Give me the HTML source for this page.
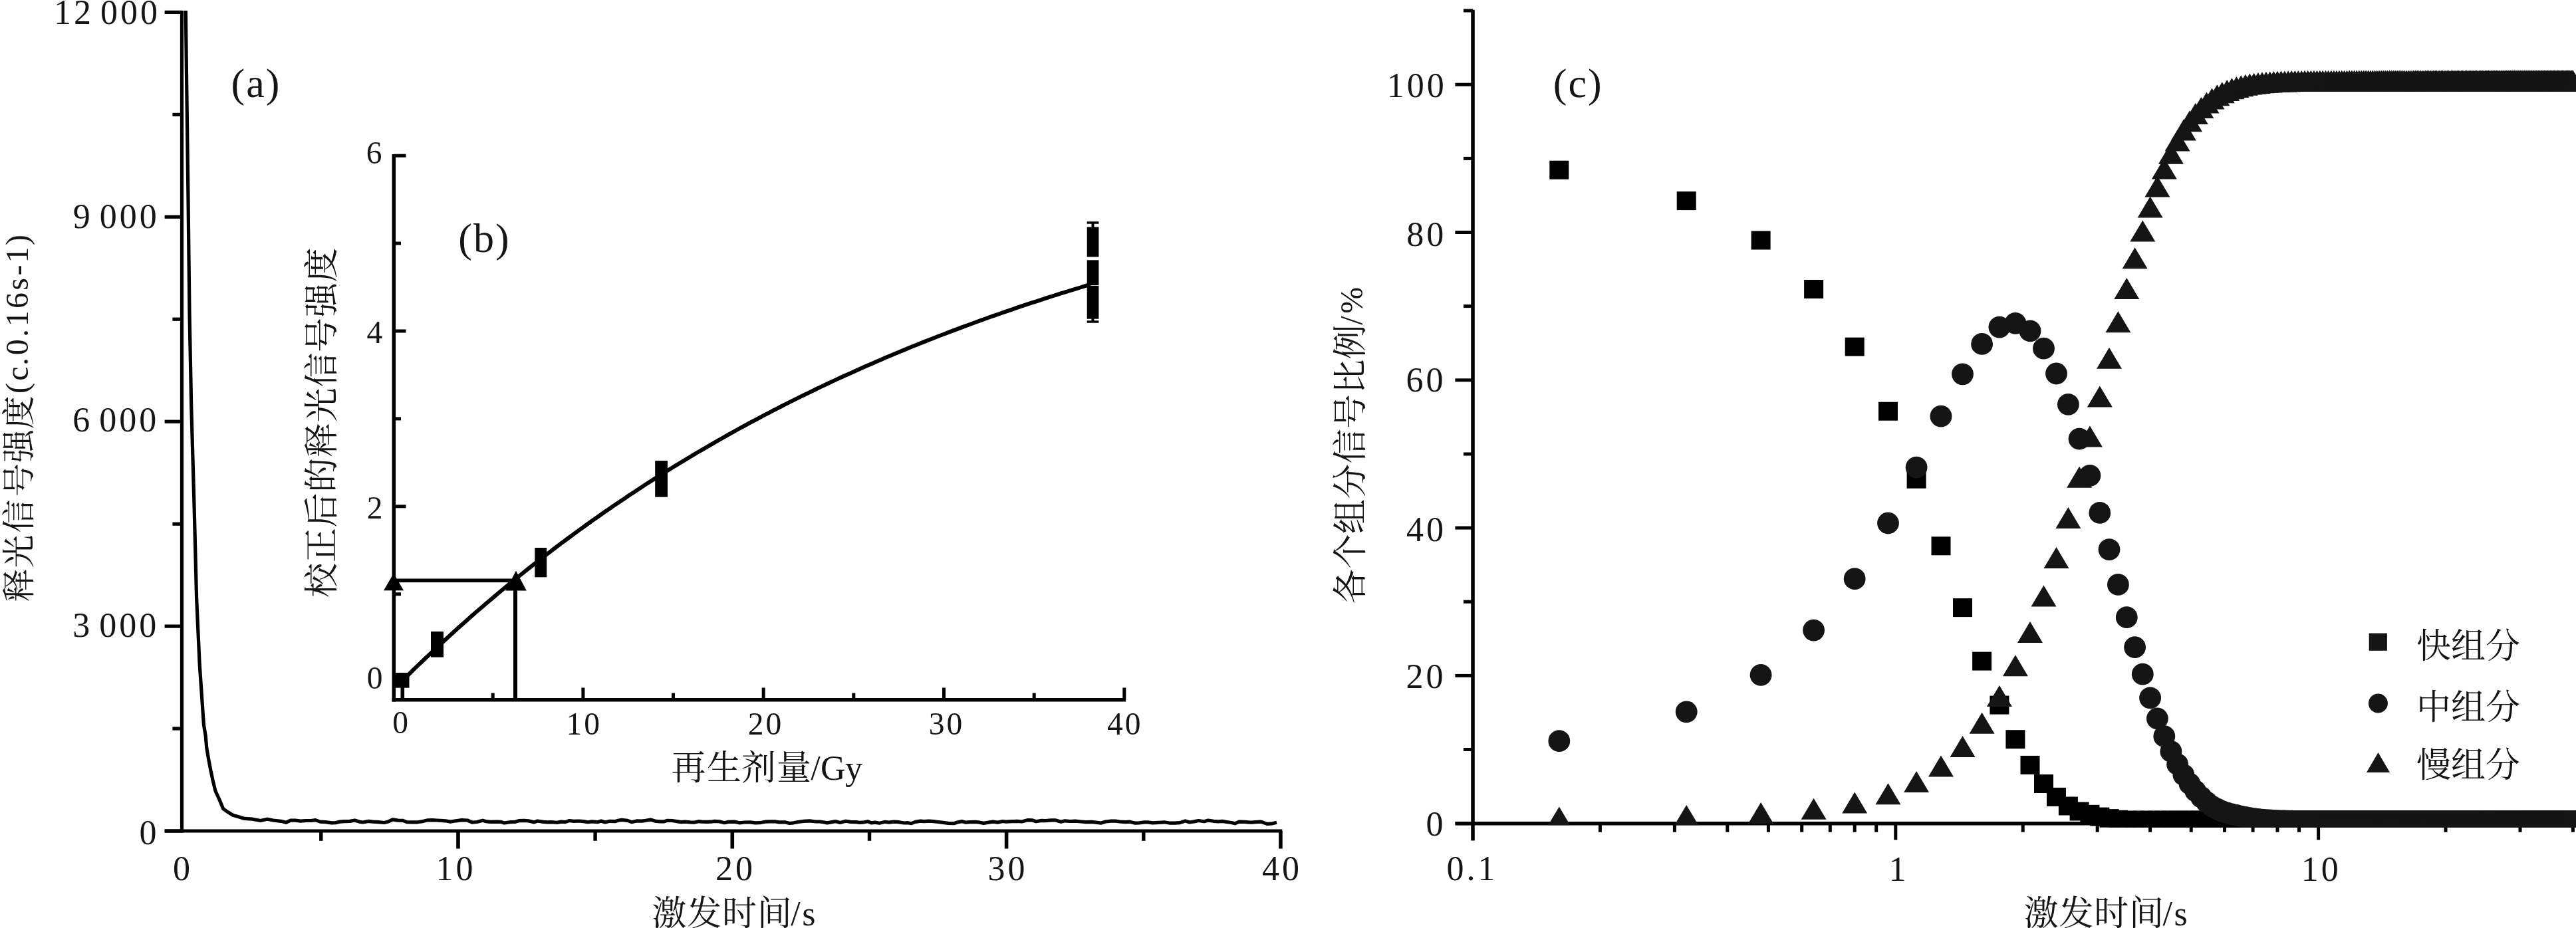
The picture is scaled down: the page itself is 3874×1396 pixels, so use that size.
<!DOCTYPE html>
<html><head><meta charset="utf-8"><title>figure</title>
<style>html,body{margin:0;padding:0;background:#fff;overflow:hidden}svg{display:block;filter:grayscale(100%)}</style>
</head><body>
<svg width="3874" height="1396" viewBox="0 0 3874 1396"><rect width="100%" height="100%" fill="#fff"/><line x1="273.5" y1="16.0" x2="273.5" y2="1252.6" stroke="#000" stroke-width="5.2" stroke-linecap="butt"/>
<line x1="247.7" y1="1250.0" x2="1928.3" y2="1250.0" stroke="#000" stroke-width="5.2" stroke-linecap="butt"/>
<line x1="247.6" y1="1250.0" x2="273.5" y2="1250.0" stroke="#000" stroke-width="5.2" stroke-linecap="butt"/>
<line x1="247.6" y1="942.1" x2="273.5" y2="942.1" stroke="#000" stroke-width="5.2" stroke-linecap="butt"/>
<line x1="247.6" y1="634.2" x2="273.5" y2="634.2" stroke="#000" stroke-width="5.2" stroke-linecap="butt"/>
<line x1="247.6" y1="326.3" x2="273.5" y2="326.3" stroke="#000" stroke-width="5.2" stroke-linecap="butt"/>
<line x1="247.6" y1="18.4" x2="273.5" y2="18.4" stroke="#000" stroke-width="5.2" stroke-linecap="butt"/>
<line x1="259.4" y1="1096.0" x2="273.5" y2="1096.0" stroke="#000" stroke-width="5.2" stroke-linecap="butt"/>
<line x1="259.4" y1="788.2" x2="273.5" y2="788.2" stroke="#000" stroke-width="5.2" stroke-linecap="butt"/>
<line x1="259.4" y1="480.2" x2="273.5" y2="480.2" stroke="#000" stroke-width="5.2" stroke-linecap="butt"/>
<line x1="259.4" y1="172.4" x2="273.5" y2="172.4" stroke="#000" stroke-width="5.2" stroke-linecap="butt"/>
<line x1="689.0" y1="1250.0" x2="689.0" y2="1276.6" stroke="#000" stroke-width="5.6" stroke-linecap="butt"/>
<line x1="1101.3" y1="1250.0" x2="1101.3" y2="1276.6" stroke="#000" stroke-width="5.6" stroke-linecap="butt"/>
<line x1="1513.6" y1="1250.0" x2="1513.6" y2="1276.6" stroke="#000" stroke-width="5.6" stroke-linecap="butt"/>
<line x1="1925.9" y1="1250.0" x2="1925.9" y2="1276.6" stroke="#000" stroke-width="5.6" stroke-linecap="butt"/>
<line x1="482.8" y1="1250.0" x2="482.8" y2="1264.8" stroke="#000" stroke-width="5.4" stroke-linecap="butt"/>
<line x1="895.1" y1="1250.0" x2="895.1" y2="1264.8" stroke="#000" stroke-width="5.4" stroke-linecap="butt"/>
<line x1="1307.5" y1="1250.0" x2="1307.5" y2="1264.8" stroke="#000" stroke-width="5.4" stroke-linecap="butt"/>
<line x1="1719.8" y1="1250.0" x2="1719.8" y2="1264.8" stroke="#000" stroke-width="5.4" stroke-linecap="butt"/>
<text x="160.9" y="36.0" font-size="52" text-anchor="middle" letter-spacing="4" font-family="'Liberation Serif','Times New Roman',serif" fill="#151515">12<tspan dx="10">000</tspan></text>
<text x="174.7" y="343.4" font-size="52" text-anchor="middle" letter-spacing="4" font-family="'Liberation Serif','Times New Roman',serif" fill="#151515">9<tspan dx="10">000</tspan></text>
<text x="174.2" y="649.3" font-size="52" text-anchor="middle" letter-spacing="4" font-family="'Liberation Serif','Times New Roman',serif" fill="#151515">6<tspan dx="10">000</tspan></text>
<text x="174.2" y="958.3" font-size="52" text-anchor="middle" letter-spacing="4" font-family="'Liberation Serif','Times New Roman',serif" fill="#151515">3<tspan dx="10">000</tspan></text>
<text x="224.5" y="1269.9" font-size="52" text-anchor="middle" letter-spacing="4" font-family="'Liberation Serif','Times New Roman',serif" fill="#151515">0</text>
<text x="275.1" y="1324.0" font-size="52" text-anchor="middle" letter-spacing="4" font-family="'Liberation Serif','Times New Roman',serif" fill="#151515">0</text>
<text x="685.5" y="1324.0" font-size="52" text-anchor="middle" letter-spacing="4" font-family="'Liberation Serif','Times New Roman',serif" fill="#151515">10</text>
<text x="1106.0" y="1324.1" font-size="52" text-anchor="middle" letter-spacing="4" font-family="'Liberation Serif','Times New Roman',serif" fill="#151515">20</text>
<text x="1515.5" y="1324.3" font-size="52" text-anchor="middle" letter-spacing="4" font-family="'Liberation Serif','Times New Roman',serif" fill="#151515">30</text>
<text x="1928.0" y="1324.1" font-size="52" text-anchor="middle" letter-spacing="4" font-family="'Liberation Serif','Times New Roman',serif" fill="#151515">40</text>
<text x="384.9" y="145.6" font-size="62" text-anchor="middle" letter-spacing="2" font-family="'Liberation Serif','Times New Roman',serif" fill="#151515">(a)</text>
<path d="M279.3,16.0 L281.0,150.0 L283.0,300.0 L285.0,472.0 L287.7,610.0 L292.0,760.0 L295.6,900.0 L300.2,1000.0 L306.4,1090.0 L309.2,1107.0 L310.7,1124.5 L313.6,1141.7 L316.9,1159.0 L320.6,1176.2 L324.0,1190.0 L329.6,1202.0 L335.7,1216.7 L341.7,1221.0 L350.3,1226.2 L359.0,1228.8 L367.6,1231.4 L379.7,1232.2 L391.7,1234.5 L402.0,1232.2 L410.7,1234.0 L424.5,1235.7 L430.0,1237.3 L436.9,1234.1 L443.9,1234.2 L452.3,1235.2 L459.8,1234.5 L468.1,1234.5 L474.4,1233.6 L481.3,1236.1 L489.7,1236.6 L498.5,1237.8 L504.9,1237.6 L511.3,1236.1 L517.6,1235.7 L526.2,1235.4 L533.5,1234.0 L540.2,1236.1 L545.5,1237.0 L554.2,1235.4 L560.6,1236.2 L568.9,1236.7 L577.7,1237.5 L584.0,1235.9 L590.5,1232.9 L598.5,1234.1 L606.0,1234.4 L611.7,1236.6 L620.0,1236.8 L627.8,1236.8 L635.9,1235.6 L643.2,1233.8 L650.5,1233.7 L656.7,1234.0 L662.0,1234.3 L669.9,1234.8 L677.4,1236.1 L685.7,1234.8 L694.3,1233.7 L703.0,1234.0 L710.0,1237.1 L717.2,1236.5 L725.9,1234.2 L732.2,1235.9 L738.1,1236.4 L746.9,1236.2 L752.8,1236.3 L758.3,1238.0 L767.0,1236.7 L775.0,1236.3 L780.2,1234.7 L788.6,1234.3 L794.6,1234.8 L803.2,1236.9 L808.4,1235.0 L817.2,1236.4 L823.2,1236.8 L829.0,1236.7 L837.8,1237.4 L844.0,1236.1 L850.0,1236.6 L856.2,1234.5 L862.9,1235.4 L870.2,1235.0 L877.6,1235.6 L884.0,1236.8 L889.9,1235.9 L898.5,1236.7 L904.1,1235.0 L910.0,1237.0 L916.9,1235.3 L924.6,1235.7 L929.8,1234.2 L934.9,1233.4 L943.7,1234.3 L949.9,1236.7 L957.2,1234.9 L964.8,1235.1 L971.2,1234.3 L978.4,1233.1 L986.4,1235.4 L992.6,1235.8 L998.3,1235.9 L1003.7,1234.3 L1010.9,1234.5 L1018.1,1235.6 L1024.6,1236.6 L1030.3,1236.2 L1038.0,1236.9 L1043.8,1237.2 L1050.3,1235.7 L1055.7,1236.2 L1063.4,1236.3 L1069.3,1236.2 L1074.8,1235.4 L1082.5,1235.9 L1089.4,1237.7 L1095.5,1236.4 L1104.3,1236.1 L1111.8,1237.8 L1119.7,1237.0 L1128.2,1236.8 L1135.8,1237.8 L1142.4,1237.7 L1150.7,1236.2 L1157.4,1235.8 L1165.0,1235.8 L1171.6,1236.9 L1180.5,1236.8 L1187.4,1238.5 L1193.3,1237.8 L1200.2,1236.5 L1208.9,1235.4 L1217.7,1234.9 L1226.6,1236.0 L1232.7,1236.0 L1238.2,1236.8 L1244.1,1237.9 L1251.0,1236.6 L1256.5,1235.6 L1263.3,1237.5 L1271.9,1235.2 L1279.1,1236.4 L1287.6,1236.7 L1292.7,1237.4 L1299.5,1236.8 L1305.1,1235.7 L1310.3,1237.8 L1315.7,1237.1 L1322.5,1238.2 L1331.3,1236.3 L1337.1,1237.1 L1344.5,1236.1 L1351.3,1236.6 L1359.7,1238.0 L1365.5,1237.7 L1370.6,1238.7 L1376.5,1236.4 L1384.5,1235.1 L1389.6,1235.7 L1396.5,1235.2 L1404.1,1235.6 L1410.7,1236.5 L1418.4,1237.4 L1426.1,1238.3 L1434.6,1238.7 L1439.7,1237.0 L1446.5,1235.6 L1452.3,1237.2 L1458.7,1236.7 L1466.8,1236.3 L1473.5,1237.2 L1479.2,1238.4 L1485.0,1237.4 L1493.3,1236.1 L1500.4,1237.1 L1507.8,1235.5 L1513.2,1236.2 L1521.5,1235.7 L1529.9,1235.4 L1536.8,1236.0 L1545.0,1233.7 L1552.0,1233.8 L1558.2,1235.8 L1566.3,1234.4 L1572.3,1234.6 L1581.3,1233.8 L1587.0,1233.8 L1595.6,1236.3 L1601.4,1234.8 L1609.6,1235.5 L1617.3,1235.2 L1625.5,1236.0 L1632.6,1236.7 L1641.5,1236.4 L1648.1,1237.1 L1656.1,1238.1 L1662.9,1236.0 L1670.8,1235.1 L1677.7,1235.2 L1683.9,1236.0 L1692.4,1236.6 L1699.1,1236.2 L1707.2,1238.2 L1712.9,1237.8 L1721.2,1236.9 L1726.3,1236.8 L1733.5,1237.8 L1742.3,1237.3 L1751.1,1236.8 L1759.8,1238.2 L1766.7,1238.2 L1774.4,1237.6 L1782.6,1234.9 L1788.9,1237.0 L1795.8,1235.9 L1802.5,1234.5 L1811.0,1235.8 L1817.1,1234.1 L1824.9,1235.3 L1832.3,1235.9 L1838.0,1235.4 L1846.6,1236.7 L1852.0,1237.5 L1857.2,1238.8 L1863.4,1236.2 L1871.6,1236.4 L1877.0,1236.8 L1882.2,1237.2 L1888.5,1236.7 L1895.2,1236.1 L1900.5,1237.6 L1906.0,1239.5 L1913.5,1238.8 L1920.0,1237.2" fill="none" stroke="#000" stroke-width="5.2" stroke-linejoin="round"/>
<line x1="592.3" y1="232.0" x2="592.3" y2="1055.6" stroke="#000" stroke-width="5.5" stroke-linecap="butt"/>
<line x1="589.6" y1="1052.8" x2="1693.0" y2="1052.8" stroke="#000" stroke-width="5.5" stroke-linecap="butt"/>
<line x1="592.3" y1="1025.6" x2="610.5" y2="1025.6" stroke="#000" stroke-width="5" stroke-linecap="butt"/>
<line x1="592.3" y1="761.8" x2="610.5" y2="761.8" stroke="#000" stroke-width="5" stroke-linecap="butt"/>
<line x1="592.3" y1="498.0" x2="610.5" y2="498.0" stroke="#000" stroke-width="5" stroke-linecap="butt"/>
<line x1="592.3" y1="234.2" x2="610.5" y2="234.2" stroke="#000" stroke-width="5" stroke-linecap="butt"/>
<line x1="592.3" y1="893.7" x2="603.0" y2="893.7" stroke="#000" stroke-width="5" stroke-linecap="butt"/>
<line x1="592.3" y1="629.9" x2="603.0" y2="629.9" stroke="#000" stroke-width="5" stroke-linecap="butt"/>
<line x1="592.3" y1="366.1" x2="603.0" y2="366.1" stroke="#000" stroke-width="5" stroke-linecap="butt"/>
<line x1="605.6" y1="1052.8" x2="605.6" y2="1034.5" stroke="#000" stroke-width="5" stroke-linecap="butt"/>
<line x1="876.9" y1="1052.8" x2="876.9" y2="1034.5" stroke="#000" stroke-width="5" stroke-linecap="butt"/>
<line x1="1148.2" y1="1052.8" x2="1148.2" y2="1034.5" stroke="#000" stroke-width="5" stroke-linecap="butt"/>
<line x1="1419.5" y1="1052.8" x2="1419.5" y2="1034.5" stroke="#000" stroke-width="5" stroke-linecap="butt"/>
<line x1="1690.8" y1="1052.8" x2="1690.8" y2="1034.5" stroke="#000" stroke-width="5" stroke-linecap="butt"/>
<line x1="741.2" y1="1052.8" x2="741.2" y2="1042.5" stroke="#000" stroke-width="5" stroke-linecap="butt"/>
<line x1="1012.5" y1="1052.8" x2="1012.5" y2="1042.5" stroke="#000" stroke-width="5" stroke-linecap="butt"/>
<line x1="1283.8" y1="1052.8" x2="1283.8" y2="1042.5" stroke="#000" stroke-width="5" stroke-linecap="butt"/>
<line x1="1555.2" y1="1052.8" x2="1555.2" y2="1042.5" stroke="#000" stroke-width="5" stroke-linecap="butt"/>
<text x="564.2" y="246.0" font-size="47.5" text-anchor="middle" letter-spacing="3" font-family="'Liberation Serif','Times New Roman',serif" fill="#151515">6</text>
<text x="564.8" y="515.6" font-size="47.5" text-anchor="middle" letter-spacing="3" font-family="'Liberation Serif','Times New Roman',serif" fill="#151515">4</text>
<text x="565.0" y="780.1" font-size="47.5" text-anchor="middle" letter-spacing="3" font-family="'Liberation Serif','Times New Roman',serif" fill="#151515">2</text>
<text x="565.1" y="1036.0" font-size="47.5" text-anchor="middle" letter-spacing="3" font-family="'Liberation Serif','Times New Roman',serif" fill="#151515">0</text>
<text x="603.6" y="1103.4" font-size="47.5" text-anchor="middle" letter-spacing="3" font-family="'Liberation Serif','Times New Roman',serif" fill="#151515">0</text>
<text x="878.2" y="1104.7" font-size="47.5" text-anchor="middle" letter-spacing="3" font-family="'Liberation Serif','Times New Roman',serif" fill="#151515">10</text>
<text x="1151.5" y="1104.9" font-size="47.5" text-anchor="middle" letter-spacing="3" font-family="'Liberation Serif','Times New Roman',serif" fill="#151515">20</text>
<text x="1423.4" y="1105.2" font-size="47.5" text-anchor="middle" letter-spacing="3" font-family="'Liberation Serif','Times New Roman',serif" fill="#151515">30</text>
<text x="1691.8" y="1105.2" font-size="47.5" text-anchor="middle" letter-spacing="3" font-family="'Liberation Serif','Times New Roman',serif" fill="#151515">40</text>
<text x="728.4" y="378.6" font-size="62" text-anchor="middle" letter-spacing="2" font-family="'Liberation Serif','Times New Roman',serif" fill="#151515">(b)</text>
<path d="M604.6,1024.4 L610.6,1018.5 L616.6,1012.6 L622.6,1006.7 L628.6,1000.9 L634.6,995.2 L640.6,989.5 L646.6,983.8 L652.6,978.1 L658.6,972.5 L664.6,967.0 L670.6,961.5 L676.6,956.0 L682.6,950.5 L688.6,945.1 L694.6,939.7 L700.6,934.4 L706.6,929.1 L712.6,923.8 L718.6,918.6 L724.6,913.4 L730.6,908.3 L736.6,903.2 L742.6,898.1 L748.6,893.0 L754.6,888.0 L760.6,883.1 L766.6,878.1 L772.6,873.2 L778.6,868.3 L784.6,863.5 L790.6,858.7 L796.6,853.9 L802.6,849.2 L808.6,844.5 L814.6,839.8 L820.6,835.2 L826.6,830.6 L832.6,826.0 L838.6,821.4 L844.6,816.9 L850.6,812.5 L856.6,808.0 L862.6,803.6 L868.6,799.2 L874.6,794.8 L880.6,790.5 L886.6,786.2 L892.6,781.9 L898.6,777.7 L904.6,773.5 L910.6,769.3 L916.6,765.2 L922.6,761.0 L928.6,757.0 L934.6,752.9 L940.6,748.9 L946.6,744.8 L952.6,740.9 L958.6,736.9 L964.6,733.0 L970.6,729.1 L976.6,725.2 L982.6,721.4 L988.6,717.6 L994.6,713.8 L1000.6,710.0 L1006.6,706.3 L1012.6,702.5 L1018.6,698.9 L1024.6,695.2 L1030.6,691.6 L1036.6,688.0 L1042.6,684.4 L1048.6,680.8 L1054.6,677.3 L1060.6,673.8 L1066.6,670.3 L1072.6,666.8 L1078.6,663.4 L1084.6,660.0 L1090.6,656.6 L1096.6,653.2 L1102.6,649.9 L1108.6,646.5 L1114.6,643.2 L1120.6,640.0 L1126.6,636.7 L1132.6,633.5 L1138.6,630.3 L1144.6,627.1 L1150.6,623.9 L1156.6,620.8 L1162.6,617.7 L1168.6,614.6 L1174.6,611.5 L1180.6,608.4 L1186.6,605.4 L1192.6,602.4 L1198.6,599.4 L1204.6,596.4 L1210.6,593.5 L1216.6,590.6 L1222.6,587.7 L1228.6,584.8 L1234.6,581.9 L1240.6,579.0 L1246.6,576.2 L1252.6,573.4 L1258.6,570.6 L1264.6,567.8 L1270.6,565.1 L1276.6,562.4 L1282.6,559.7 L1288.6,557.0 L1294.6,554.3 L1300.6,551.6 L1306.6,549.0 L1312.6,546.4 L1318.6,543.8 L1324.6,541.2 L1330.6,538.6 L1336.6,536.1 L1342.6,533.5 L1348.6,531.0 L1354.6,528.5 L1360.6,526.1 L1366.6,523.6 L1372.6,521.1 L1378.6,518.7 L1384.6,516.3 L1390.6,513.9 L1396.6,511.5 L1402.6,509.2 L1408.6,506.8 L1414.6,504.5 L1420.6,502.2 L1426.6,499.9 L1432.6,497.6 L1438.6,495.4 L1444.6,493.1 L1450.6,490.9 L1456.6,488.7 L1462.6,486.5 L1468.6,484.3 L1474.6,482.1 L1480.6,480.0 L1486.6,477.8 L1492.6,475.7 L1498.6,473.6 L1504.6,471.5 L1510.6,469.4 L1516.6,467.3 L1522.6,465.3 L1528.6,463.2 L1534.6,461.2 L1540.6,459.2 L1546.6,457.2 L1552.6,455.2 L1558.6,453.3 L1564.6,451.3 L1570.6,449.4 L1576.6,447.4 L1582.6,445.5 L1588.6,443.6 L1594.6,441.7 L1600.6,439.9 L1606.6,438.0 L1612.6,436.1 L1618.6,434.3 L1624.6,432.5 L1630.6,430.7 L1640.0,427.9" fill="none" stroke="#000" stroke-width="6" stroke-linejoin="round"/>
<line x1="592.0" y1="873.3" x2="777.0" y2="873.3" stroke="#000" stroke-width="5.4" stroke-linecap="butt"/>
<line x1="775.0" y1="873.3" x2="775.0" y2="1052.8" stroke="#000" stroke-width="6" stroke-linecap="butt"/>
<rect x="593.7" y="1012.0" width="21.8" height="22.7" fill="#000"/>
<line x1="605.0" y1="1034.0" x2="605.0" y2="1050.0" stroke="#000" stroke-width="5" stroke-linecap="butt"/>
<rect x="648.0" y="950.0" width="19.0" height="38.7" fill="#000"/>
<rect x="804.3" y="824.0" width="17.9" height="44.3" fill="#000"/>
<rect x="985.2" y="693.1" width="18.8" height="54.6" fill="#000"/>
<rect x="1634.7" y="341.5" width="17.7" height="45.0" fill="#000"/>
<rect x="1634.7" y="391.3" width="17.7" height="37.9" fill="#000"/>
<rect x="1634.7" y="430.0" width="17.7" height="49.7" fill="#000"/>
<line x1="1643.5" y1="334.0" x2="1643.5" y2="342.0" stroke="#000" stroke-width="4" stroke-linecap="butt"/>
<line x1="1643.5" y1="479.0" x2="1643.5" y2="485.0" stroke="#000" stroke-width="4" stroke-linecap="butt"/>
<line x1="1634.7" y1="335.0" x2="1652.4" y2="335.0" stroke="#000" stroke-width="3.5" stroke-linecap="butt"/>
<line x1="1634.7" y1="484.0" x2="1652.4" y2="484.0" stroke="#000" stroke-width="3.5" stroke-linecap="butt"/>
<path d="M592.0,862.6 L607.0,888.3 L577.0,888.3 Z" fill="#000"/>
<path d="M776.0,858.7 L791.8,888.5 L760.2,888.5 Z" fill="#000"/>
<text x="1035.6" y="1173.0" font-size="52" text-anchor="middle" font-family="'Liberation Serif','Noto Serif CJK SC','Noto Serif CJK JP',serif" fill="#151515">再</text>
<text x="1088.9" y="1173.0" font-size="52" text-anchor="middle" font-family="'Liberation Serif','Noto Serif CJK SC','Noto Serif CJK JP',serif" fill="#151515">生</text>
<text x="1140.7" y="1173.0" font-size="52" text-anchor="middle" font-family="'Liberation Serif','Noto Serif CJK SC','Noto Serif CJK JP',serif" fill="#151515">剂</text>
<text x="1194.0" y="1173.0" font-size="52" text-anchor="middle" font-family="'Liberation Serif','Noto Serif CJK SC','Noto Serif CJK JP',serif" fill="#151515">量</text>
<text x="1226.5" y="1173.0" font-size="52" text-anchor="middle" font-family="'Liberation Serif','Noto Serif CJK SC','Noto Serif CJK JP',serif" fill="#151515">/</text>
<text x="1252.8" y="1173.0" font-size="52" text-anchor="middle" font-family="'Liberation Serif','Noto Serif CJK SC','Noto Serif CJK JP',serif" fill="#151515">G</text>
<text x="1284.0" y="1173.0" font-size="52" text-anchor="middle" font-family="'Liberation Serif','Noto Serif CJK SC','Noto Serif CJK JP',serif" fill="#151515">y</text>
<text transform="translate(502.0,872.8) rotate(-90)" font-size="52" text-anchor="middle" font-family="'Liberation Serif','Noto Serif CJK SC','Noto Serif CJK JP',serif" fill="#151515">校</text>
<text transform="translate(502.0,820.1) rotate(-90)" font-size="52" text-anchor="middle" font-family="'Liberation Serif','Noto Serif CJK SC','Noto Serif CJK JP',serif" fill="#151515">正</text>
<text transform="translate(502.0,767.4) rotate(-90)" font-size="52" text-anchor="middle" font-family="'Liberation Serif','Noto Serif CJK SC','Noto Serif CJK JP',serif" fill="#151515">后</text>
<text transform="translate(502.0,714.7) rotate(-90)" font-size="52" text-anchor="middle" font-family="'Liberation Serif','Noto Serif CJK SC','Noto Serif CJK JP',serif" fill="#151515">的</text>
<text transform="translate(502.0,662.0) rotate(-90)" font-size="52" text-anchor="middle" font-family="'Liberation Serif','Noto Serif CJK SC','Noto Serif CJK JP',serif" fill="#151515">释</text>
<text transform="translate(502.0,609.3) rotate(-90)" font-size="52" text-anchor="middle" font-family="'Liberation Serif','Noto Serif CJK SC','Noto Serif CJK JP',serif" fill="#151515">光</text>
<text transform="translate(502.0,556.6) rotate(-90)" font-size="52" text-anchor="middle" font-family="'Liberation Serif','Noto Serif CJK SC','Noto Serif CJK JP',serif" fill="#151515">信</text>
<text transform="translate(502.0,503.9) rotate(-90)" font-size="52" text-anchor="middle" font-family="'Liberation Serif','Noto Serif CJK SC','Noto Serif CJK JP',serif" fill="#151515">号</text>
<text transform="translate(502.0,451.2) rotate(-90)" font-size="52" text-anchor="middle" font-family="'Liberation Serif','Noto Serif CJK SC','Noto Serif CJK JP',serif" fill="#151515">强</text>
<text transform="translate(502.0,398.5) rotate(-90)" font-size="52" text-anchor="middle" font-family="'Liberation Serif','Noto Serif CJK SC','Noto Serif CJK JP',serif" fill="#151515">度</text>
<line x1="2215.0" y1="14.7" x2="2215.0" y2="1264.5" stroke="#000" stroke-width="5.5" stroke-linecap="butt"/>
<line x1="2188.8" y1="1238.7" x2="3874.0" y2="1238.7" stroke="#000" stroke-width="5.5" stroke-linecap="butt"/>
<line x1="2188.4" y1="1238.7" x2="2215.0" y2="1238.7" stroke="#000" stroke-width="5" stroke-linecap="butt"/>
<line x1="2188.4" y1="1016.4" x2="2215.0" y2="1016.4" stroke="#000" stroke-width="5" stroke-linecap="butt"/>
<line x1="2188.4" y1="794.1" x2="2215.0" y2="794.1" stroke="#000" stroke-width="5" stroke-linecap="butt"/>
<line x1="2188.4" y1="571.8" x2="2215.0" y2="571.8" stroke="#000" stroke-width="5" stroke-linecap="butt"/>
<line x1="2188.4" y1="349.5" x2="2215.0" y2="349.5" stroke="#000" stroke-width="5" stroke-linecap="butt"/>
<line x1="2188.4" y1="127.2" x2="2215.0" y2="127.2" stroke="#000" stroke-width="5" stroke-linecap="butt"/>
<line x1="2200.9" y1="1127.5" x2="2215.0" y2="1127.5" stroke="#000" stroke-width="5" stroke-linecap="butt"/>
<line x1="2200.9" y1="905.2" x2="2215.0" y2="905.2" stroke="#000" stroke-width="5" stroke-linecap="butt"/>
<line x1="2200.9" y1="683.0" x2="2215.0" y2="683.0" stroke="#000" stroke-width="5" stroke-linecap="butt"/>
<line x1="2200.9" y1="460.6" x2="2215.0" y2="460.6" stroke="#000" stroke-width="5" stroke-linecap="butt"/>
<line x1="2200.9" y1="238.4" x2="2215.0" y2="238.4" stroke="#000" stroke-width="5" stroke-linecap="butt"/>
<line x1="2200.9" y1="16.0" x2="2215.0" y2="16.0" stroke="#000" stroke-width="5" stroke-linecap="butt"/>
<line x1="2850.8" y1="1238.7" x2="2850.8" y2="1263.5" stroke="#000" stroke-width="5" stroke-linecap="butt"/>
<line x1="3486.6" y1="1238.7" x2="3486.6" y2="1263.5" stroke="#000" stroke-width="5" stroke-linecap="butt"/>
<line x1="2406.4" y1="1238.7" x2="2406.4" y2="1251.8" stroke="#000" stroke-width="5" stroke-linecap="butt"/>
<line x1="2518.4" y1="1238.7" x2="2518.4" y2="1251.8" stroke="#000" stroke-width="5" stroke-linecap="butt"/>
<line x1="2597.8" y1="1238.7" x2="2597.8" y2="1251.8" stroke="#000" stroke-width="5" stroke-linecap="butt"/>
<line x1="2659.4" y1="1238.7" x2="2659.4" y2="1251.8" stroke="#000" stroke-width="5" stroke-linecap="butt"/>
<line x1="2709.7" y1="1238.7" x2="2709.7" y2="1251.8" stroke="#000" stroke-width="5" stroke-linecap="butt"/>
<line x1="2752.3" y1="1238.7" x2="2752.3" y2="1251.8" stroke="#000" stroke-width="5" stroke-linecap="butt"/>
<line x1="2789.2" y1="1238.7" x2="2789.2" y2="1251.8" stroke="#000" stroke-width="5" stroke-linecap="butt"/>
<line x1="2821.7" y1="1238.7" x2="2821.7" y2="1251.8" stroke="#000" stroke-width="5" stroke-linecap="butt"/>
<line x1="3042.2" y1="1238.7" x2="3042.2" y2="1251.8" stroke="#000" stroke-width="5" stroke-linecap="butt"/>
<line x1="3154.2" y1="1238.7" x2="3154.2" y2="1251.8" stroke="#000" stroke-width="5" stroke-linecap="butt"/>
<line x1="3233.6" y1="1238.7" x2="3233.6" y2="1251.8" stroke="#000" stroke-width="5" stroke-linecap="butt"/>
<line x1="3295.2" y1="1238.7" x2="3295.2" y2="1251.8" stroke="#000" stroke-width="5" stroke-linecap="butt"/>
<line x1="3345.5" y1="1238.7" x2="3345.5" y2="1251.8" stroke="#000" stroke-width="5" stroke-linecap="butt"/>
<line x1="3388.1" y1="1238.7" x2="3388.1" y2="1251.8" stroke="#000" stroke-width="5" stroke-linecap="butt"/>
<line x1="3425.0" y1="1238.7" x2="3425.0" y2="1251.8" stroke="#000" stroke-width="5" stroke-linecap="butt"/>
<line x1="3457.5" y1="1238.7" x2="3457.5" y2="1251.8" stroke="#000" stroke-width="5" stroke-linecap="butt"/>
<line x1="3678.0" y1="1238.7" x2="3678.0" y2="1251.8" stroke="#000" stroke-width="5" stroke-linecap="butt"/>
<line x1="3790.0" y1="1238.7" x2="3790.0" y2="1251.8" stroke="#000" stroke-width="5" stroke-linecap="butt"/>
<line x1="3869.4" y1="1238.7" x2="3869.4" y2="1251.8" stroke="#000" stroke-width="5" stroke-linecap="butt"/>
<text x="2130.7" y="146.2" font-size="52" text-anchor="middle" letter-spacing="4" font-family="'Liberation Serif','Times New Roman',serif" fill="#151515">100</text>
<text x="2145.3" y="370.1" font-size="52" text-anchor="middle" letter-spacing="4" font-family="'Liberation Serif','Times New Roman',serif" fill="#151515">80</text>
<text x="2144.6" y="589.0" font-size="52" text-anchor="middle" letter-spacing="4" font-family="'Liberation Serif','Times New Roman',serif" fill="#151515">60</text>
<text x="2145.0" y="813.6" font-size="52" text-anchor="middle" letter-spacing="4" font-family="'Liberation Serif','Times New Roman',serif" fill="#151515">40</text>
<text x="2144.5" y="1035.3" font-size="52" text-anchor="middle" letter-spacing="4" font-family="'Liberation Serif','Times New Roman',serif" fill="#151515">20</text>
<text x="2159.5" y="1256.6" font-size="52" text-anchor="middle" letter-spacing="4" font-family="'Liberation Serif','Times New Roman',serif" fill="#151515">0</text>
<text x="2213.9" y="1324.3" font-size="52" text-anchor="middle" letter-spacing="4" font-family="'Liberation Serif','Times New Roman',serif" fill="#151515">0.1</text>
<text x="2855.6" y="1324.5" font-size="52" text-anchor="middle" letter-spacing="4" font-family="'Liberation Serif','Times New Roman',serif" fill="#151515">1</text>
<text x="3490.7" y="1324.7" font-size="52" text-anchor="middle" letter-spacing="4" font-family="'Liberation Serif','Times New Roman',serif" fill="#151515">10</text>
<text x="2373.2" y="145.6" font-size="62" text-anchor="middle" letter-spacing="2" font-family="'Liberation Serif','Times New Roman',serif" fill="#151515">(c)</text>
<defs><clipPath id="cc"><rect x="2200" y="0" width="1700" height="1244.7"/></clipPath></defs>
<g clip-path="url(#cc)">
<g fill="#000"><rect x="2330.3" y="241.7" width="29" height="28"/><rect x="2521.7" y="288.1" width="29" height="28"/><rect x="2633.6" y="347.5" width="29" height="28"/><rect x="2713.1" y="421.0" width="29" height="28"/><rect x="2774.7" y="507.7" width="29" height="28"/><rect x="2825.0" y="604.7" width="29" height="28"/><rect x="2867.6" y="706.7" width="29" height="28"/><rect x="2904.5" y="807.3" width="29" height="28"/><rect x="2937.0" y="900.1" width="29" height="28"/><rect x="2966.1" y="980.6" width="29" height="28"/><rect x="2992.4" y="1046.6" width="29" height="28"/><rect x="3016.4" y="1098.2" width="29" height="28"/><rect x="3038.5" y="1136.9" width="29" height="28"/><rect x="3059.0" y="1165.0" width="29" height="28"/><rect x="3078.0" y="1184.9" width="29" height="28"/><rect x="3095.9" y="1198.5" width="29" height="28"/><rect x="3112.6" y="1206.5" width="29" height="28"/><rect x="3128.4" y="1210.8" width="29" height="28"/><rect x="3143.3" y="1214.6" width="29" height="28"/><rect x="3157.5" y="1217.1" width="29" height="28"/><rect x="3170.9" y="1218.8" width="29" height="28"/><rect x="3183.8" y="1219.7" width="29" height="28"/><rect x="3196.1" y="1219.7" width="29" height="28"/><rect x="3207.8" y="1219.7" width="29" height="28"/><rect x="3219.1" y="1219.7" width="29" height="28"/><rect x="3229.9" y="1219.7" width="29" height="28"/><rect x="3240.3" y="1219.7" width="29" height="28"/><rect x="3250.4" y="1219.7" width="29" height="28"/><rect x="3260.1" y="1219.7" width="29" height="28"/><rect x="3269.4" y="1219.7" width="29" height="28"/><rect x="3278.5" y="1219.7" width="29" height="28"/><rect x="3287.3" y="1219.7" width="29" height="28"/><rect x="3295.8" y="1219.7" width="29" height="28"/><rect x="3304.0" y="1219.7" width="29" height="28"/><rect x="3312.0" y="1219.7" width="29" height="28"/><rect x="3319.8" y="1219.7" width="29" height="28"/><rect x="3327.3" y="1219.7" width="29" height="28"/><rect x="3334.7" y="1219.7" width="29" height="28"/><rect x="3341.9" y="1219.7" width="29" height="28"/><rect x="3348.9" y="1219.7" width="29" height="28"/><rect x="3355.7" y="1219.7" width="29" height="28"/><rect x="3362.3" y="1219.7" width="29" height="28"/><rect x="3368.8" y="1219.7" width="29" height="28"/><rect x="3375.2" y="1219.7" width="29" height="28"/><rect x="3381.4" y="1219.7" width="29" height="28"/><rect x="3387.5" y="1219.7" width="29" height="28"/><rect x="3393.4" y="1219.7" width="29" height="28"/><rect x="3399.2" y="1219.7" width="29" height="28"/><rect x="3404.9" y="1219.7" width="29" height="28"/><rect x="3410.5" y="1219.7" width="29" height="28"/><rect x="3416.0" y="1219.7" width="29" height="28"/><rect x="3421.3" y="1219.7" width="29" height="28"/><rect x="3426.6" y="1219.7" width="29" height="28"/><rect x="3431.7" y="1219.7" width="29" height="28"/><rect x="3436.8" y="1219.7" width="29" height="28"/><rect x="3441.8" y="1219.7" width="29" height="28"/><rect x="3446.7" y="1219.7" width="29" height="28"/><rect x="3451.5" y="1219.7" width="29" height="28"/><rect x="3456.2" y="1219.7" width="29" height="28"/><rect x="3460.8" y="1219.7" width="29" height="28"/><rect x="3465.4" y="1219.7" width="29" height="28"/><rect x="3469.9" y="1219.7" width="29" height="28"/><rect x="3474.3" y="1219.7" width="29" height="28"/><rect x="3478.6" y="1219.7" width="29" height="28"/><rect x="3482.9" y="1219.7" width="29" height="28"/><rect x="3487.1" y="1219.7" width="29" height="28"/><rect x="3491.3" y="1219.7" width="29" height="28"/><rect x="3495.4" y="1219.7" width="29" height="28"/><rect x="3499.4" y="1219.7" width="29" height="28"/><rect x="3503.4" y="1219.7" width="29" height="28"/><rect x="3507.3" y="1219.7" width="29" height="28"/><rect x="3511.2" y="1219.7" width="29" height="28"/><rect x="3515.0" y="1219.7" width="29" height="28"/><rect x="3518.7" y="1219.7" width="29" height="28"/><rect x="3522.4" y="1219.7" width="29" height="28"/><rect x="3526.1" y="1219.7" width="29" height="28"/><rect x="3529.7" y="1219.7" width="29" height="28"/><rect x="3533.3" y="1219.7" width="29" height="28"/><rect x="3536.8" y="1219.7" width="29" height="28"/><rect x="3540.3" y="1219.7" width="29" height="28"/><rect x="3543.7" y="1219.7" width="29" height="28"/><rect x="3547.1" y="1219.7" width="29" height="28"/><rect x="3550.4" y="1219.7" width="29" height="28"/><rect x="3553.7" y="1219.7" width="29" height="28"/><rect x="3557.0" y="1219.7" width="29" height="28"/><rect x="3560.2" y="1219.7" width="29" height="28"/><rect x="3563.4" y="1219.7" width="29" height="28"/><rect x="3566.6" y="1219.7" width="29" height="28"/><rect x="3569.7" y="1219.7" width="29" height="28"/><rect x="3572.8" y="1219.7" width="29" height="28"/><rect x="3575.8" y="1219.7" width="29" height="28"/><rect x="3578.9" y="1219.7" width="29" height="28"/><rect x="3581.8" y="1219.7" width="29" height="28"/><rect x="3584.8" y="1219.7" width="29" height="28"/><rect x="3587.7" y="1219.7" width="29" height="28"/><rect x="3590.6" y="1219.7" width="29" height="28"/><rect x="3593.5" y="1219.7" width="29" height="28"/><rect x="3596.3" y="1219.7" width="29" height="28"/><rect x="3599.1" y="1219.7" width="29" height="28"/><rect x="3601.9" y="1219.7" width="29" height="28"/><rect x="3604.6" y="1219.7" width="29" height="28"/><rect x="3607.3" y="1219.7" width="29" height="28"/><rect x="3610.0" y="1219.7" width="29" height="28"/><rect x="3612.7" y="1219.7" width="29" height="28"/><rect x="3615.4" y="1219.7" width="29" height="28"/><rect x="3618.0" y="1219.7" width="29" height="28"/><rect x="3620.6" y="1219.7" width="29" height="28"/><rect x="3623.1" y="1219.7" width="29" height="28"/><rect x="3625.7" y="1219.7" width="29" height="28"/><rect x="3628.2" y="1219.7" width="29" height="28"/><rect x="3630.7" y="1219.7" width="29" height="28"/><rect x="3633.2" y="1219.7" width="29" height="28"/><rect x="3635.6" y="1219.7" width="29" height="28"/><rect x="3638.1" y="1219.7" width="29" height="28"/><rect x="3640.5" y="1219.7" width="29" height="28"/><rect x="3642.9" y="1219.7" width="29" height="28"/><rect x="3645.2" y="1219.7" width="29" height="28"/><rect x="3647.6" y="1219.7" width="29" height="28"/><rect x="3649.9" y="1219.7" width="29" height="28"/><rect x="3652.2" y="1219.7" width="29" height="28"/><rect x="3654.5" y="1219.7" width="29" height="28"/><rect x="3656.8" y="1219.7" width="29" height="28"/><rect x="3659.0" y="1219.7" width="29" height="28"/><rect x="3661.3" y="1219.7" width="29" height="28"/><rect x="3663.5" y="1219.7" width="29" height="28"/><rect x="3665.7" y="1219.7" width="29" height="28"/><rect x="3667.9" y="1219.7" width="29" height="28"/><rect x="3670.0" y="1219.7" width="29" height="28"/><rect x="3672.2" y="1219.7" width="29" height="28"/><rect x="3674.3" y="1219.7" width="29" height="28"/><rect x="3676.4" y="1219.7" width="29" height="28"/><rect x="3678.5" y="1219.7" width="29" height="28"/><rect x="3680.6" y="1219.7" width="29" height="28"/><rect x="3682.7" y="1219.7" width="29" height="28"/><rect x="3684.7" y="1219.7" width="29" height="28"/><rect x="3686.8" y="1219.7" width="29" height="28"/><rect x="3688.8" y="1219.7" width="29" height="28"/><rect x="3690.8" y="1219.7" width="29" height="28"/><rect x="3692.8" y="1219.7" width="29" height="28"/><rect x="3694.8" y="1219.7" width="29" height="28"/><rect x="3696.8" y="1219.7" width="29" height="28"/><rect x="3698.7" y="1219.7" width="29" height="28"/><rect x="3700.6" y="1219.7" width="29" height="28"/><rect x="3702.6" y="1219.7" width="29" height="28"/><rect x="3704.5" y="1219.7" width="29" height="28"/><rect x="3706.4" y="1219.7" width="29" height="28"/><rect x="3708.3" y="1219.7" width="29" height="28"/><rect x="3710.1" y="1219.7" width="29" height="28"/><rect x="3712.0" y="1219.7" width="29" height="28"/><rect x="3713.8" y="1219.7" width="29" height="28"/><rect x="3715.7" y="1219.7" width="29" height="28"/><rect x="3717.5" y="1219.7" width="29" height="28"/><rect x="3719.3" y="1219.7" width="29" height="28"/><rect x="3721.1" y="1219.7" width="29" height="28"/><rect x="3722.9" y="1219.7" width="29" height="28"/><rect x="3724.7" y="1219.7" width="29" height="28"/><rect x="3726.4" y="1219.7" width="29" height="28"/><rect x="3728.2" y="1219.7" width="29" height="28"/><rect x="3729.9" y="1219.7" width="29" height="28"/><rect x="3731.7" y="1219.7" width="29" height="28"/><rect x="3733.4" y="1219.7" width="29" height="28"/><rect x="3735.1" y="1219.7" width="29" height="28"/><rect x="3736.8" y="1219.7" width="29" height="28"/><rect x="3738.5" y="1219.7" width="29" height="28"/><rect x="3740.2" y="1219.7" width="29" height="28"/><rect x="3741.8" y="1219.7" width="29" height="28"/><rect x="3743.5" y="1219.7" width="29" height="28"/><rect x="3745.1" y="1219.7" width="29" height="28"/><rect x="3746.8" y="1219.7" width="29" height="28"/><rect x="3748.4" y="1219.7" width="29" height="28"/><rect x="3750.0" y="1219.7" width="29" height="28"/><rect x="3751.6" y="1219.7" width="29" height="28"/><rect x="3753.2" y="1219.7" width="29" height="28"/><rect x="3754.8" y="1219.7" width="29" height="28"/><rect x="3756.4" y="1219.7" width="29" height="28"/><rect x="3758.0" y="1219.7" width="29" height="28"/><rect x="3759.5" y="1219.7" width="29" height="28"/><rect x="3761.1" y="1219.7" width="29" height="28"/><rect x="3762.6" y="1219.7" width="29" height="28"/><rect x="3764.2" y="1219.7" width="29" height="28"/><rect x="3765.7" y="1219.7" width="29" height="28"/><rect x="3767.2" y="1219.7" width="29" height="28"/><rect x="3768.7" y="1219.7" width="29" height="28"/><rect x="3770.3" y="1219.7" width="29" height="28"/><rect x="3771.7" y="1219.7" width="29" height="28"/><rect x="3773.2" y="1219.7" width="29" height="28"/><rect x="3774.7" y="1219.7" width="29" height="28"/><rect x="3776.2" y="1219.7" width="29" height="28"/><rect x="3777.7" y="1219.7" width="29" height="28"/><rect x="3779.1" y="1219.7" width="29" height="28"/><rect x="3780.6" y="1219.7" width="29" height="28"/><rect x="3782.0" y="1219.7" width="29" height="28"/><rect x="3783.4" y="1219.7" width="29" height="28"/><rect x="3784.9" y="1219.7" width="29" height="28"/><rect x="3786.3" y="1219.7" width="29" height="28"/><rect x="3787.7" y="1219.7" width="29" height="28"/><rect x="3789.1" y="1219.7" width="29" height="28"/><rect x="3790.5" y="1219.7" width="29" height="28"/><rect x="3791.9" y="1219.7" width="29" height="28"/><rect x="3793.3" y="1219.7" width="29" height="28"/><rect x="3794.7" y="1219.7" width="29" height="28"/><rect x="3796.0" y="1219.7" width="29" height="28"/><rect x="3797.4" y="1219.7" width="29" height="28"/><rect x="3798.7" y="1219.7" width="29" height="28"/><rect x="3800.1" y="1219.7" width="29" height="28"/><rect x="3801.4" y="1219.7" width="29" height="28"/><rect x="3802.8" y="1219.7" width="29" height="28"/><rect x="3804.1" y="1219.7" width="29" height="28"/><rect x="3805.4" y="1219.7" width="29" height="28"/><rect x="3806.7" y="1219.7" width="29" height="28"/><rect x="3808.1" y="1219.7" width="29" height="28"/><rect x="3809.4" y="1219.7" width="29" height="28"/><rect x="3810.7" y="1219.7" width="29" height="28"/><rect x="3812.0" y="1219.7" width="29" height="28"/><rect x="3813.2" y="1219.7" width="29" height="28"/><rect x="3814.5" y="1219.7" width="29" height="28"/><rect x="3815.8" y="1219.7" width="29" height="28"/><rect x="3817.1" y="1219.7" width="29" height="28"/><rect x="3818.3" y="1219.7" width="29" height="28"/><rect x="3819.6" y="1219.7" width="29" height="28"/><rect x="3820.8" y="1219.7" width="29" height="28"/><rect x="3822.1" y="1219.7" width="29" height="28"/><rect x="3823.3" y="1219.7" width="29" height="28"/><rect x="3824.6" y="1219.7" width="29" height="28"/><rect x="3825.8" y="1219.7" width="29" height="28"/><rect x="3827.0" y="1219.7" width="29" height="28"/><rect x="3828.2" y="1219.7" width="29" height="28"/><rect x="3829.5" y="1219.7" width="29" height="28"/><rect x="3830.7" y="1219.7" width="29" height="28"/><rect x="3831.9" y="1219.7" width="29" height="28"/><rect x="3833.1" y="1219.7" width="29" height="28"/><rect x="3834.3" y="1219.7" width="29" height="28"/><rect x="3835.4" y="1219.7" width="29" height="28"/><rect x="3836.6" y="1219.7" width="29" height="28"/><rect x="3837.8" y="1219.7" width="29" height="28"/><rect x="3839.0" y="1219.7" width="29" height="28"/><rect x="3840.1" y="1219.7" width="29" height="28"/><rect x="3841.3" y="1219.7" width="29" height="28"/><rect x="3842.5" y="1219.7" width="29" height="28"/><rect x="3843.6" y="1219.7" width="29" height="28"/><rect x="3844.8" y="1219.7" width="29" height="28"/><rect x="3845.9" y="1219.7" width="29" height="28"/><rect x="3847.0" y="1219.7" width="29" height="28"/><rect x="3848.2" y="1219.7" width="29" height="28"/><rect x="3849.3" y="1219.7" width="29" height="28"/><rect x="3850.4" y="1219.7" width="29" height="28"/><rect x="3851.6" y="1219.7" width="29" height="28"/><rect x="3852.7" y="1219.7" width="29" height="28"/><rect x="3853.8" y="1219.7" width="29" height="28"/><rect x="3854.9" y="1219.7" width="29" height="28"/></g>
<g fill="#151515"><circle cx="2344.8" cy="1114.7" r="16.4"/><circle cx="2536.2" cy="1070.8" r="16.4"/><circle cx="2648.1" cy="1015.4" r="16.4"/><circle cx="2727.6" cy="948.1" r="16.4"/><circle cx="2789.2" cy="870.7" r="16.4"/><circle cx="2839.5" cy="787.0" r="16.4"/><circle cx="2882.1" cy="703.1" r="16.4"/><circle cx="2919.0" cy="626.2" r="16.4"/><circle cx="2951.5" cy="562.8" r="16.4"/><circle cx="2980.6" cy="517.4" r="16.4"/><circle cx="3006.9" cy="492.1" r="16.4"/><circle cx="3030.9" cy="486.3" r="16.4"/><circle cx="3053.0" cy="497.9" r="16.4"/><circle cx="3073.5" cy="524.2" r="16.4"/><circle cx="3092.5" cy="562.0" r="16.4"/><circle cx="3110.4" cy="608.3" r="16.4"/><circle cx="3127.1" cy="660.2" r="16.4"/><circle cx="3142.9" cy="715.3" r="16.4"/><circle cx="3157.8" cy="771.4" r="16.4"/><circle cx="3172.0" cy="826.6" r="16.4"/><circle cx="3185.4" cy="879.4" r="16.4"/><circle cx="3198.3" cy="928.7" r="16.4"/><circle cx="3210.6" cy="973.7" r="16.4"/><circle cx="3222.3" cy="1014.2" r="16.4"/><circle cx="3233.6" cy="1049.9" r="16.4"/><circle cx="3244.4" cy="1081.0" r="16.4"/><circle cx="3254.8" cy="1107.7" r="16.4"/><circle cx="3264.9" cy="1130.4" r="16.4"/><circle cx="3274.6" cy="1149.6" r="16.4"/><circle cx="3283.9" cy="1165.6" r="16.4"/><circle cx="3293.0" cy="1179.0" r="16.4"/><circle cx="3301.8" cy="1190.0" r="16.4"/><circle cx="3310.3" cy="1199.1" r="16.4"/><circle cx="3318.5" cy="1206.6" r="16.4"/><circle cx="3326.5" cy="1212.8" r="16.4"/><circle cx="3334.3" cy="1217.0" r="16.4"/><circle cx="3341.8" cy="1220.3" r="16.4"/><circle cx="3349.2" cy="1222.9" r="16.4"/><circle cx="3356.4" cy="1224.9" r="16.4"/><circle cx="3363.4" cy="1226.3" r="16.4"/><circle cx="3370.2" cy="1228.1" r="16.4"/><circle cx="3376.8" cy="1229.5" r="16.4"/><circle cx="3383.3" cy="1230.7" r="16.4"/><circle cx="3389.7" cy="1231.7" r="16.4"/><circle cx="3395.9" cy="1232.4" r="16.4"/><circle cx="3402.0" cy="1233.1" r="16.4"/><circle cx="3407.9" cy="1233.6" r="16.4"/><circle cx="3413.7" cy="1234.0" r="16.4"/><circle cx="3419.4" cy="1234.3" r="16.4"/><circle cx="3425.0" cy="1234.6" r="16.4"/><circle cx="3430.5" cy="1234.8" r="16.4"/><circle cx="3435.8" cy="1235.0" r="16.4"/><circle cx="3441.1" cy="1235.1" r="16.4"/><circle cx="3446.2" cy="1235.2" r="16.4"/><circle cx="3451.3" cy="1235.3" r="16.4"/><circle cx="3456.3" cy="1235.4" r="16.4"/><circle cx="3461.2" cy="1235.4" r="16.4"/><circle cx="3466.0" cy="1235.5" r="16.4"/><circle cx="3470.7" cy="1235.5" r="16.4"/><circle cx="3475.3" cy="1235.6" r="16.4"/><circle cx="3479.9" cy="1235.6" r="16.4"/><circle cx="3484.4" cy="1235.6" r="16.4"/><circle cx="3488.8" cy="1235.6" r="16.4"/><circle cx="3493.1" cy="1235.6" r="16.4"/><circle cx="3497.4" cy="1235.7" r="16.4"/><circle cx="3501.6" cy="1235.7" r="16.4"/><circle cx="3505.8" cy="1235.7" r="16.4"/><circle cx="3509.9" cy="1235.7" r="16.4"/><circle cx="3513.9" cy="1235.7" r="16.4"/><circle cx="3517.9" cy="1235.7" r="16.4"/><circle cx="3521.8" cy="1235.7" r="16.4"/><circle cx="3525.7" cy="1235.7" r="16.4"/><circle cx="3529.5" cy="1235.7" r="16.4"/><circle cx="3533.2" cy="1235.7" r="16.4"/><circle cx="3536.9" cy="1235.7" r="16.4"/><circle cx="3540.6" cy="1235.7" r="16.4"/><circle cx="3544.2" cy="1235.7" r="16.4"/><circle cx="3547.8" cy="1235.7" r="16.4"/><circle cx="3551.3" cy="1235.7" r="16.4"/><circle cx="3554.8" cy="1235.7" r="16.4"/><circle cx="3558.2" cy="1235.7" r="16.4"/><circle cx="3561.6" cy="1235.7" r="16.4"/><circle cx="3564.9" cy="1235.7" r="16.4"/><circle cx="3568.2" cy="1235.7" r="16.4"/><circle cx="3571.5" cy="1235.7" r="16.4"/><circle cx="3574.7" cy="1235.7" r="16.4"/><circle cx="3577.9" cy="1235.7" r="16.4"/><circle cx="3581.1" cy="1235.7" r="16.4"/><circle cx="3584.2" cy="1235.7" r="16.4"/><circle cx="3587.3" cy="1235.7" r="16.4"/><circle cx="3590.3" cy="1235.7" r="16.4"/><circle cx="3593.4" cy="1235.7" r="16.4"/><circle cx="3596.3" cy="1235.7" r="16.4"/><circle cx="3599.3" cy="1235.7" r="16.4"/><circle cx="3602.2" cy="1235.7" r="16.4"/><circle cx="3605.1" cy="1235.7" r="16.4"/><circle cx="3608.0" cy="1235.7" r="16.4"/><circle cx="3610.8" cy="1235.7" r="16.4"/><circle cx="3613.6" cy="1235.7" r="16.4"/><circle cx="3616.4" cy="1235.7" r="16.4"/><circle cx="3619.1" cy="1235.7" r="16.4"/><circle cx="3621.8" cy="1235.7" r="16.4"/><circle cx="3624.5" cy="1235.7" r="16.4"/><circle cx="3627.2" cy="1235.7" r="16.4"/><circle cx="3629.9" cy="1235.7" r="16.4"/><circle cx="3632.5" cy="1235.7" r="16.4"/><circle cx="3635.1" cy="1235.7" r="16.4"/><circle cx="3637.6" cy="1235.7" r="16.4"/><circle cx="3640.2" cy="1235.7" r="16.4"/><circle cx="3642.7" cy="1235.7" r="16.4"/><circle cx="3645.2" cy="1235.7" r="16.4"/><circle cx="3647.7" cy="1235.7" r="16.4"/><circle cx="3650.1" cy="1235.7" r="16.4"/><circle cx="3652.6" cy="1235.7" r="16.4"/><circle cx="3655.0" cy="1235.7" r="16.4"/><circle cx="3657.4" cy="1235.7" r="16.4"/><circle cx="3659.7" cy="1235.7" r="16.4"/><circle cx="3662.1" cy="1235.7" r="16.4"/><circle cx="3664.4" cy="1235.7" r="16.4"/><circle cx="3666.7" cy="1235.7" r="16.4"/><circle cx="3669.0" cy="1235.7" r="16.4"/><circle cx="3671.3" cy="1235.7" r="16.4"/><circle cx="3673.5" cy="1235.7" r="16.4"/><circle cx="3675.8" cy="1235.7" r="16.4"/><circle cx="3678.0" cy="1235.7" r="16.4"/><circle cx="3680.2" cy="1235.7" r="16.4"/><circle cx="3682.4" cy="1235.7" r="16.4"/><circle cx="3684.5" cy="1235.7" r="16.4"/><circle cx="3686.7" cy="1235.7" r="16.4"/><circle cx="3688.8" cy="1235.7" r="16.4"/><circle cx="3690.9" cy="1235.7" r="16.4"/><circle cx="3693.0" cy="1235.7" r="16.4"/><circle cx="3695.1" cy="1235.7" r="16.4"/><circle cx="3697.2" cy="1235.7" r="16.4"/><circle cx="3699.2" cy="1235.7" r="16.4"/><circle cx="3701.3" cy="1235.7" r="16.4"/><circle cx="3703.3" cy="1235.7" r="16.4"/><circle cx="3705.3" cy="1235.7" r="16.4"/><circle cx="3707.3" cy="1235.7" r="16.4"/><circle cx="3709.3" cy="1235.7" r="16.4"/><circle cx="3711.3" cy="1235.7" r="16.4"/><circle cx="3713.2" cy="1235.7" r="16.4"/><circle cx="3715.1" cy="1235.7" r="16.4"/><circle cx="3717.1" cy="1235.7" r="16.4"/><circle cx="3719.0" cy="1235.7" r="16.4"/><circle cx="3720.9" cy="1235.7" r="16.4"/><circle cx="3722.8" cy="1235.7" r="16.4"/><circle cx="3724.6" cy="1235.7" r="16.4"/><circle cx="3726.5" cy="1235.7" r="16.4"/><circle cx="3728.3" cy="1235.7" r="16.4"/><circle cx="3730.2" cy="1235.7" r="16.4"/><circle cx="3732.0" cy="1235.7" r="16.4"/><circle cx="3733.8" cy="1235.7" r="16.4"/><circle cx="3735.6" cy="1235.7" r="16.4"/><circle cx="3737.4" cy="1235.7" r="16.4"/><circle cx="3739.2" cy="1235.7" r="16.4"/><circle cx="3740.9" cy="1235.7" r="16.4"/><circle cx="3742.7" cy="1235.7" r="16.4"/><circle cx="3744.4" cy="1235.7" r="16.4"/><circle cx="3746.2" cy="1235.7" r="16.4"/><circle cx="3747.9" cy="1235.7" r="16.4"/><circle cx="3749.6" cy="1235.7" r="16.4"/><circle cx="3751.3" cy="1235.7" r="16.4"/><circle cx="3753.0" cy="1235.7" r="16.4"/><circle cx="3754.7" cy="1235.7" r="16.4"/><circle cx="3756.3" cy="1235.7" r="16.4"/><circle cx="3758.0" cy="1235.7" r="16.4"/><circle cx="3759.6" cy="1235.7" r="16.4"/><circle cx="3761.3" cy="1235.7" r="16.4"/><circle cx="3762.9" cy="1235.7" r="16.4"/><circle cx="3764.5" cy="1235.7" r="16.4"/><circle cx="3766.1" cy="1235.7" r="16.4"/><circle cx="3767.7" cy="1235.7" r="16.4"/><circle cx="3769.3" cy="1235.7" r="16.4"/><circle cx="3770.9" cy="1235.7" r="16.4"/><circle cx="3772.5" cy="1235.7" r="16.4"/><circle cx="3774.0" cy="1235.7" r="16.4"/><circle cx="3775.6" cy="1235.7" r="16.4"/><circle cx="3777.1" cy="1235.7" r="16.4"/><circle cx="3778.7" cy="1235.7" r="16.4"/><circle cx="3780.2" cy="1235.7" r="16.4"/><circle cx="3781.7" cy="1235.7" r="16.4"/><circle cx="3783.2" cy="1235.7" r="16.4"/><circle cx="3784.8" cy="1235.7" r="16.4"/><circle cx="3786.2" cy="1235.7" r="16.4"/><circle cx="3787.7" cy="1235.7" r="16.4"/><circle cx="3789.2" cy="1235.7" r="16.4"/><circle cx="3790.7" cy="1235.7" r="16.4"/><circle cx="3792.2" cy="1235.7" r="16.4"/><circle cx="3793.6" cy="1235.7" r="16.4"/><circle cx="3795.1" cy="1235.7" r="16.4"/><circle cx="3796.5" cy="1235.7" r="16.4"/><circle cx="3797.9" cy="1235.7" r="16.4"/><circle cx="3799.4" cy="1235.7" r="16.4"/><circle cx="3800.8" cy="1235.7" r="16.4"/><circle cx="3802.2" cy="1235.7" r="16.4"/><circle cx="3803.6" cy="1235.7" r="16.4"/><circle cx="3805.0" cy="1235.7" r="16.4"/><circle cx="3806.4" cy="1235.7" r="16.4"/><circle cx="3807.8" cy="1235.7" r="16.4"/><circle cx="3809.2" cy="1235.7" r="16.4"/><circle cx="3810.5" cy="1235.7" r="16.4"/><circle cx="3811.9" cy="1235.7" r="16.4"/><circle cx="3813.2" cy="1235.7" r="16.4"/><circle cx="3814.6" cy="1235.7" r="16.4"/><circle cx="3815.9" cy="1235.7" r="16.4"/><circle cx="3817.3" cy="1235.7" r="16.4"/><circle cx="3818.6" cy="1235.7" r="16.4"/><circle cx="3819.9" cy="1235.7" r="16.4"/><circle cx="3821.2" cy="1235.7" r="16.4"/><circle cx="3822.6" cy="1235.7" r="16.4"/><circle cx="3823.9" cy="1235.7" r="16.4"/><circle cx="3825.2" cy="1235.7" r="16.4"/><circle cx="3826.5" cy="1235.7" r="16.4"/><circle cx="3827.7" cy="1235.7" r="16.4"/><circle cx="3829.0" cy="1235.7" r="16.4"/><circle cx="3830.3" cy="1235.7" r="16.4"/><circle cx="3831.6" cy="1235.7" r="16.4"/><circle cx="3832.8" cy="1235.7" r="16.4"/><circle cx="3834.1" cy="1235.7" r="16.4"/><circle cx="3835.3" cy="1235.7" r="16.4"/><circle cx="3836.6" cy="1235.7" r="16.4"/><circle cx="3837.8" cy="1235.7" r="16.4"/><circle cx="3839.1" cy="1235.7" r="16.4"/><circle cx="3840.3" cy="1235.7" r="16.4"/><circle cx="3841.5" cy="1235.7" r="16.4"/><circle cx="3842.7" cy="1235.7" r="16.4"/><circle cx="3844.0" cy="1235.7" r="16.4"/><circle cx="3845.2" cy="1235.7" r="16.4"/><circle cx="3846.4" cy="1235.7" r="16.4"/><circle cx="3847.6" cy="1235.7" r="16.4"/><circle cx="3848.8" cy="1235.7" r="16.4"/><circle cx="3849.9" cy="1235.7" r="16.4"/><circle cx="3851.1" cy="1235.7" r="16.4"/><circle cx="3852.3" cy="1235.7" r="16.4"/><circle cx="3853.5" cy="1235.7" r="16.4"/><circle cx="3854.6" cy="1235.7" r="16.4"/><circle cx="3855.8" cy="1235.7" r="16.4"/><circle cx="3857.0" cy="1235.7" r="16.4"/><circle cx="3858.1" cy="1235.7" r="16.4"/><circle cx="3859.3" cy="1235.7" r="16.4"/><circle cx="3860.4" cy="1235.7" r="16.4"/><circle cx="3861.5" cy="1235.7" r="16.4"/><circle cx="3862.7" cy="1235.7" r="16.4"/><circle cx="3863.8" cy="1235.7" r="16.4"/><circle cx="3864.9" cy="1235.7" r="16.4"/><circle cx="3866.1" cy="1235.7" r="16.4"/><circle cx="3867.2" cy="1235.7" r="16.4"/><circle cx="3868.3" cy="1235.7" r="16.4"/><circle cx="3869.4" cy="1235.7" r="16.4"/></g>
</g>
<defs><clipPath id="ct"><rect x="2200" y="0" width="1700" height="1241.2"/></clipPath></defs>
<g clip-path="url(#ct)" fill="#151515"><path d="M2344.8,1213.4 L2363.8,1245.4 L2325.8,1245.4 Z"/><path d="M2536.2,1210.9 L2555.2,1242.9 L2517.2,1242.9 Z"/><path d="M2648.1,1206.9 L2667.1,1238.9 L2629.1,1238.9 Z"/><path d="M2727.6,1200.7 L2746.6,1232.7 L2708.6,1232.7 Z"/><path d="M2789.2,1191.5 L2808.2,1223.5 L2770.2,1223.5 Z"/><path d="M2839.5,1178.2 L2858.5,1210.2 L2820.5,1210.2 Z"/><path d="M2882.1,1160.0 L2901.1,1192.0 L2863.1,1192.0 Z"/><path d="M2919.0,1136.4 L2938.0,1168.4 L2900.0,1168.4 Z"/><path d="M2951.5,1107.0 L2970.5,1139.0 L2932.5,1139.0 Z"/><path d="M2980.6,1071.8 L2999.6,1103.8 L2961.6,1103.8 Z"/><path d="M3006.9,1031.1 L3025.9,1063.1 L2987.9,1063.1 Z"/><path d="M3030.9,985.3 L3049.9,1017.3 L3011.9,1017.3 Z"/><path d="M3053.0,934.9 L3072.0,966.9 L3034.0,966.9 Z"/><path d="M3073.5,880.6 L3092.5,912.6 L3054.5,912.6 Z"/><path d="M3092.5,823.0 L3111.5,855.0 L3073.5,855.0 Z"/><path d="M3110.4,763.0 L3129.4,795.0 L3091.4,795.0 Z"/><path d="M3127.1,701.8 L3146.1,733.8 L3108.1,733.8 Z"/><path d="M3142.9,640.6 L3161.9,672.6 L3123.9,672.6 Z"/><path d="M3157.8,580.5 L3176.8,612.5 L3138.8,612.5 Z"/><path d="M3172.0,522.8 L3191.0,554.8 L3153.0,554.8 Z"/><path d="M3185.4,468.3 L3204.4,500.3 L3166.4,500.3 Z"/><path d="M3198.3,418.0 L3217.3,450.0 L3179.3,450.0 Z"/><path d="M3210.6,372.3 L3229.6,404.3 L3191.6,404.3 Z"/><path d="M3222.3,331.5 L3241.3,363.5 L3203.3,363.5 Z"/><path d="M3233.6,295.6 L3252.6,327.6 L3214.6,327.6 Z"/><path d="M3244.4,264.4 L3263.4,296.4 L3225.4,296.4 Z"/><path d="M3254.8,237.6 L3273.8,269.6 L3235.8,269.6 Z"/><path d="M3264.9,214.8 L3283.9,246.8 L3245.9,246.8 Z"/><path d="M3274.6,195.6 L3293.6,227.6 L3255.6,227.6 Z"/><path d="M3283.9,179.5 L3302.9,211.5 L3264.9,211.5 Z"/><path d="M3293.0,166.2 L3312.0,198.2 L3274.0,198.2 Z"/><path d="M3301.8,155.1 L3320.8,187.1 L3282.8,187.1 Z"/><path d="M3310.3,146.0 L3329.3,178.0 L3291.3,178.0 Z"/><path d="M3318.5,138.5 L3337.5,170.5 L3299.5,170.5 Z"/><path d="M3326.5,132.4 L3345.5,164.4 L3307.5,164.4 Z"/><path d="M3334.3,127.3 L3353.3,159.3 L3315.3,159.3 Z"/><path d="M3341.8,123.3 L3360.8,155.3 L3322.8,155.3 Z"/><path d="M3349.2,119.9 L3368.2,151.9 L3330.2,151.9 Z"/><path d="M3356.4,117.2 L3375.4,149.2 L3337.4,149.2 Z"/><path d="M3363.4,115.0 L3382.4,147.0 L3344.4,147.0 Z"/><path d="M3370.2,113.2 L3389.2,145.2 L3351.2,145.2 Z"/><path d="M3376.8,111.8 L3395.8,143.8 L3357.8,143.8 Z"/><path d="M3383.3,110.6 L3402.3,142.6 L3364.3,142.6 Z"/><path d="M3389.7,109.7 L3408.7,141.7 L3370.7,141.7 Z"/><path d="M3395.9,108.9 L3414.9,140.9 L3376.9,140.9 Z"/><path d="M3402.0,108.3 L3421.0,140.3 L3383.0,140.3 Z"/><path d="M3407.9,107.8 L3426.9,139.8 L3388.9,139.8 Z"/><path d="M3413.7,107.4 L3432.7,139.4 L3394.7,139.4 Z"/><path d="M3419.4,107.0 L3438.4,139.0 L3400.4,139.0 Z"/><path d="M3425.0,106.8 L3444.0,138.8 L3406.0,138.8 Z"/><path d="M3430.5,106.6 L3449.5,138.6 L3411.5,138.6 Z"/><path d="M3435.8,106.4 L3454.8,138.4 L3416.8,138.4 Z"/><path d="M3441.1,106.2 L3460.1,138.2 L3422.1,138.2 Z"/><path d="M3446.2,106.1 L3465.2,138.1 L3427.2,138.1 Z"/><path d="M3451.3,106.0 L3470.3,138.0 L3432.3,138.0 Z"/><path d="M3456.3,106.0 L3475.3,138.0 L3437.3,138.0 Z"/><path d="M3461.2,105.9 L3480.2,137.9 L3442.2,137.9 Z"/><path d="M3466.0,105.8 L3485.0,137.8 L3447.0,137.8 Z"/><path d="M3470.7,105.8 L3489.7,137.8 L3451.7,137.8 Z"/><path d="M3475.3,105.8 L3494.3,137.8 L3456.3,137.8 Z"/><path d="M3479.9,105.8 L3498.9,137.8 L3460.9,137.8 Z"/><path d="M3484.4,105.7 L3503.4,137.7 L3465.4,137.7 Z"/><path d="M3488.8,105.7 L3507.8,137.7 L3469.8,137.7 Z"/><path d="M3493.1,105.7 L3512.1,137.7 L3474.1,137.7 Z"/><path d="M3497.4,105.7 L3516.4,137.7 L3478.4,137.7 Z"/><path d="M3501.6,105.7 L3520.6,137.7 L3482.6,137.7 Z"/><path d="M3505.8,105.7 L3524.8,137.7 L3486.8,137.7 Z"/><path d="M3509.9,105.7 L3528.9,137.7 L3490.9,137.7 Z"/><path d="M3513.9,105.7 L3532.9,137.7 L3494.9,137.7 Z"/><path d="M3517.9,105.7 L3536.9,137.7 L3498.9,137.7 Z"/><path d="M3521.8,105.7 L3540.8,137.7 L3502.8,137.7 Z"/><path d="M3525.7,105.7 L3544.7,137.7 L3506.7,137.7 Z"/><path d="M3529.5,105.7 L3548.5,137.7 L3510.5,137.7 Z"/><path d="M3533.2,105.6 L3552.2,137.6 L3514.2,137.6 Z"/><path d="M3536.9,105.6 L3555.9,137.6 L3517.9,137.6 Z"/><path d="M3540.6,105.6 L3559.6,137.6 L3521.6,137.6 Z"/><path d="M3544.2,105.6 L3563.2,137.6 L3525.2,137.6 Z"/><path d="M3547.8,105.6 L3566.8,137.6 L3528.8,137.6 Z"/><path d="M3551.3,105.6 L3570.3,137.6 L3532.3,137.6 Z"/><path d="M3554.8,105.6 L3573.8,137.6 L3535.8,137.6 Z"/><path d="M3558.2,105.6 L3577.2,137.6 L3539.2,137.6 Z"/><path d="M3561.6,105.6 L3580.6,137.6 L3542.6,137.6 Z"/><path d="M3564.9,105.6 L3583.9,137.6 L3545.9,137.6 Z"/><path d="M3568.2,105.6 L3587.2,137.6 L3549.2,137.6 Z"/><path d="M3571.5,105.6 L3590.5,137.6 L3552.5,137.6 Z"/><path d="M3574.7,105.6 L3593.7,137.6 L3555.7,137.6 Z"/><path d="M3577.9,105.6 L3596.9,137.6 L3558.9,137.6 Z"/><path d="M3581.1,105.6 L3600.1,137.6 L3562.1,137.6 Z"/><path d="M3584.2,105.6 L3603.2,137.6 L3565.2,137.6 Z"/><path d="M3587.3,105.6 L3606.3,137.6 L3568.3,137.6 Z"/><path d="M3590.3,105.6 L3609.3,137.6 L3571.3,137.6 Z"/><path d="M3593.4,105.6 L3612.4,137.6 L3574.4,137.6 Z"/><path d="M3596.3,105.6 L3615.3,137.6 L3577.3,137.6 Z"/><path d="M3599.3,105.6 L3618.3,137.6 L3580.3,137.6 Z"/><path d="M3602.2,105.6 L3621.2,137.6 L3583.2,137.6 Z"/><path d="M3605.1,105.6 L3624.1,137.6 L3586.1,137.6 Z"/><path d="M3608.0,105.6 L3627.0,137.6 L3589.0,137.6 Z"/><path d="M3610.8,105.6 L3629.8,137.6 L3591.8,137.6 Z"/><path d="M3613.6,105.6 L3632.6,137.6 L3594.6,137.6 Z"/><path d="M3616.4,105.6 L3635.4,137.6 L3597.4,137.6 Z"/><path d="M3619.1,105.6 L3638.1,137.6 L3600.1,137.6 Z"/><path d="M3621.8,105.6 L3640.8,137.6 L3602.8,137.6 Z"/><path d="M3624.5,105.6 L3643.5,137.6 L3605.5,137.6 Z"/><path d="M3627.2,105.6 L3646.2,137.6 L3608.2,137.6 Z"/><path d="M3629.9,105.6 L3648.9,137.6 L3610.9,137.6 Z"/><path d="M3632.5,105.6 L3651.5,137.6 L3613.5,137.6 Z"/><path d="M3635.1,105.6 L3654.1,137.6 L3616.1,137.6 Z"/><path d="M3637.6,105.6 L3656.6,137.6 L3618.6,137.6 Z"/><path d="M3640.2,105.6 L3659.2,137.6 L3621.2,137.6 Z"/><path d="M3642.7,105.6 L3661.7,137.6 L3623.7,137.6 Z"/><path d="M3645.2,105.6 L3664.2,137.6 L3626.2,137.6 Z"/><path d="M3647.7,105.6 L3666.7,137.6 L3628.7,137.6 Z"/><path d="M3650.1,105.6 L3669.1,137.6 L3631.1,137.6 Z"/><path d="M3652.6,105.6 L3671.6,137.6 L3633.6,137.6 Z"/><path d="M3655.0,105.6 L3674.0,137.6 L3636.0,137.6 Z"/><path d="M3657.4,105.6 L3676.4,137.6 L3638.4,137.6 Z"/><path d="M3659.7,105.6 L3678.7,137.6 L3640.7,137.6 Z"/><path d="M3662.1,105.6 L3681.1,137.6 L3643.1,137.6 Z"/><path d="M3664.4,105.6 L3683.4,137.6 L3645.4,137.6 Z"/><path d="M3666.7,105.6 L3685.7,137.6 L3647.7,137.6 Z"/><path d="M3669.0,105.6 L3688.0,137.6 L3650.0,137.6 Z"/><path d="M3671.3,105.6 L3690.3,137.6 L3652.3,137.6 Z"/><path d="M3673.5,105.6 L3692.5,137.6 L3654.5,137.6 Z"/><path d="M3675.8,105.6 L3694.8,137.6 L3656.8,137.6 Z"/><path d="M3678.0,105.6 L3697.0,137.6 L3659.0,137.6 Z"/><path d="M3680.2,105.6 L3699.2,137.6 L3661.2,137.6 Z"/><path d="M3682.4,105.6 L3701.4,137.6 L3663.4,137.6 Z"/><path d="M3684.5,105.6 L3703.5,137.6 L3665.5,137.6 Z"/><path d="M3686.7,105.6 L3705.7,137.6 L3667.7,137.6 Z"/><path d="M3688.8,105.6 L3707.8,137.6 L3669.8,137.6 Z"/><path d="M3690.9,105.6 L3709.9,137.6 L3671.9,137.6 Z"/><path d="M3693.0,105.6 L3712.0,137.6 L3674.0,137.6 Z"/><path d="M3695.1,105.6 L3714.1,137.6 L3676.1,137.6 Z"/><path d="M3697.2,105.6 L3716.2,137.6 L3678.2,137.6 Z"/><path d="M3699.2,105.6 L3718.2,137.6 L3680.2,137.6 Z"/><path d="M3701.3,105.6 L3720.3,137.6 L3682.3,137.6 Z"/><path d="M3703.3,105.6 L3722.3,137.6 L3684.3,137.6 Z"/><path d="M3705.3,105.6 L3724.3,137.6 L3686.3,137.6 Z"/><path d="M3707.3,105.6 L3726.3,137.6 L3688.3,137.6 Z"/><path d="M3709.3,105.6 L3728.3,137.6 L3690.3,137.6 Z"/><path d="M3711.3,105.6 L3730.3,137.6 L3692.3,137.6 Z"/><path d="M3713.2,105.6 L3732.2,137.6 L3694.2,137.6 Z"/><path d="M3715.1,105.6 L3734.1,137.6 L3696.1,137.6 Z"/><path d="M3717.1,105.6 L3736.1,137.6 L3698.1,137.6 Z"/><path d="M3719.0,105.6 L3738.0,137.6 L3700.0,137.6 Z"/><path d="M3720.9,105.6 L3739.9,137.6 L3701.9,137.6 Z"/><path d="M3722.8,105.6 L3741.8,137.6 L3703.8,137.6 Z"/><path d="M3724.6,105.6 L3743.6,137.6 L3705.6,137.6 Z"/><path d="M3726.5,105.6 L3745.5,137.6 L3707.5,137.6 Z"/><path d="M3728.3,105.6 L3747.3,137.6 L3709.3,137.6 Z"/><path d="M3730.2,105.6 L3749.2,137.6 L3711.2,137.6 Z"/><path d="M3732.0,105.6 L3751.0,137.6 L3713.0,137.6 Z"/><path d="M3733.8,105.6 L3752.8,137.6 L3714.8,137.6 Z"/><path d="M3735.6,105.6 L3754.6,137.6 L3716.6,137.6 Z"/><path d="M3737.4,105.6 L3756.4,137.6 L3718.4,137.6 Z"/><path d="M3739.2,105.6 L3758.2,137.6 L3720.2,137.6 Z"/><path d="M3740.9,105.6 L3759.9,137.6 L3721.9,137.6 Z"/><path d="M3742.7,105.6 L3761.7,137.6 L3723.7,137.6 Z"/><path d="M3744.4,105.6 L3763.4,137.6 L3725.4,137.6 Z"/><path d="M3746.2,105.6 L3765.2,137.6 L3727.2,137.6 Z"/><path d="M3747.9,105.6 L3766.9,137.6 L3728.9,137.6 Z"/><path d="M3749.6,105.6 L3768.6,137.6 L3730.6,137.6 Z"/><path d="M3751.3,105.6 L3770.3,137.6 L3732.3,137.6 Z"/><path d="M3753.0,105.6 L3772.0,137.6 L3734.0,137.6 Z"/><path d="M3754.7,105.6 L3773.7,137.6 L3735.7,137.6 Z"/><path d="M3756.3,105.6 L3775.3,137.6 L3737.3,137.6 Z"/><path d="M3758.0,105.6 L3777.0,137.6 L3739.0,137.6 Z"/><path d="M3759.6,105.6 L3778.6,137.6 L3740.6,137.6 Z"/><path d="M3761.3,105.6 L3780.3,137.6 L3742.3,137.6 Z"/><path d="M3762.9,105.6 L3781.9,137.6 L3743.9,137.6 Z"/><path d="M3764.5,105.6 L3783.5,137.6 L3745.5,137.6 Z"/><path d="M3766.1,105.6 L3785.1,137.6 L3747.1,137.6 Z"/><path d="M3767.7,105.6 L3786.7,137.6 L3748.7,137.6 Z"/><path d="M3769.3,105.6 L3788.3,137.6 L3750.3,137.6 Z"/><path d="M3770.9,105.6 L3789.9,137.6 L3751.9,137.6 Z"/><path d="M3772.5,105.6 L3791.5,137.6 L3753.5,137.6 Z"/><path d="M3774.0,105.6 L3793.0,137.6 L3755.0,137.6 Z"/><path d="M3775.6,105.6 L3794.6,137.6 L3756.6,137.6 Z"/><path d="M3777.1,105.6 L3796.1,137.6 L3758.1,137.6 Z"/><path d="M3778.7,105.6 L3797.7,137.6 L3759.7,137.6 Z"/><path d="M3780.2,105.6 L3799.2,137.6 L3761.2,137.6 Z"/><path d="M3781.7,105.6 L3800.7,137.6 L3762.7,137.6 Z"/><path d="M3783.2,105.6 L3802.2,137.6 L3764.2,137.6 Z"/><path d="M3784.8,105.6 L3803.8,137.6 L3765.8,137.6 Z"/><path d="M3786.2,105.6 L3805.2,137.6 L3767.2,137.6 Z"/><path d="M3787.7,105.6 L3806.7,137.6 L3768.7,137.6 Z"/><path d="M3789.2,105.6 L3808.2,137.6 L3770.2,137.6 Z"/><path d="M3790.7,105.6 L3809.7,137.6 L3771.7,137.6 Z"/><path d="M3792.2,105.6 L3811.2,137.6 L3773.2,137.6 Z"/><path d="M3793.6,105.6 L3812.6,137.6 L3774.6,137.6 Z"/><path d="M3795.1,105.6 L3814.1,137.6 L3776.1,137.6 Z"/><path d="M3796.5,105.6 L3815.5,137.6 L3777.5,137.6 Z"/><path d="M3797.9,105.6 L3816.9,137.6 L3778.9,137.6 Z"/><path d="M3799.4,105.6 L3818.4,137.6 L3780.4,137.6 Z"/><path d="M3800.8,105.6 L3819.8,137.6 L3781.8,137.6 Z"/><path d="M3802.2,105.6 L3821.2,137.6 L3783.2,137.6 Z"/><path d="M3803.6,105.6 L3822.6,137.6 L3784.6,137.6 Z"/><path d="M3805.0,105.6 L3824.0,137.6 L3786.0,137.6 Z"/><path d="M3806.4,105.6 L3825.4,137.6 L3787.4,137.6 Z"/><path d="M3807.8,105.6 L3826.8,137.6 L3788.8,137.6 Z"/><path d="M3809.2,105.6 L3828.2,137.6 L3790.2,137.6 Z"/><path d="M3810.5,105.6 L3829.5,137.6 L3791.5,137.6 Z"/><path d="M3811.9,105.6 L3830.9,137.6 L3792.9,137.6 Z"/><path d="M3813.2,105.6 L3832.2,137.6 L3794.2,137.6 Z"/><path d="M3814.6,105.6 L3833.6,137.6 L3795.6,137.6 Z"/><path d="M3815.9,105.6 L3834.9,137.6 L3796.9,137.6 Z"/><path d="M3817.3,105.6 L3836.3,137.6 L3798.3,137.6 Z"/><path d="M3818.6,105.6 L3837.6,137.6 L3799.6,137.6 Z"/><path d="M3819.9,105.6 L3838.9,137.6 L3800.9,137.6 Z"/><path d="M3821.2,105.6 L3840.2,137.6 L3802.2,137.6 Z"/><path d="M3822.6,105.6 L3841.6,137.6 L3803.6,137.6 Z"/><path d="M3823.9,105.6 L3842.9,137.6 L3804.9,137.6 Z"/><path d="M3825.2,105.6 L3844.2,137.6 L3806.2,137.6 Z"/><path d="M3826.5,105.6 L3845.5,137.6 L3807.5,137.6 Z"/><path d="M3827.7,105.6 L3846.7,137.6 L3808.7,137.6 Z"/><path d="M3829.0,105.6 L3848.0,137.6 L3810.0,137.6 Z"/><path d="M3830.3,105.6 L3849.3,137.6 L3811.3,137.6 Z"/><path d="M3831.6,105.6 L3850.6,137.6 L3812.6,137.6 Z"/><path d="M3832.8,105.6 L3851.8,137.6 L3813.8,137.6 Z"/><path d="M3834.1,105.6 L3853.1,137.6 L3815.1,137.6 Z"/><path d="M3835.3,105.6 L3854.3,137.6 L3816.3,137.6 Z"/><path d="M3836.6,105.6 L3855.6,137.6 L3817.6,137.6 Z"/><path d="M3837.8,105.6 L3856.8,137.6 L3818.8,137.6 Z"/><path d="M3839.1,105.6 L3858.1,137.6 L3820.1,137.6 Z"/><path d="M3840.3,105.6 L3859.3,137.6 L3821.3,137.6 Z"/><path d="M3841.5,105.6 L3860.5,137.6 L3822.5,137.6 Z"/><path d="M3842.7,105.6 L3861.7,137.6 L3823.7,137.6 Z"/><path d="M3844.0,105.6 L3863.0,137.6 L3825.0,137.6 Z"/><path d="M3845.2,105.6 L3864.2,137.6 L3826.2,137.6 Z"/><path d="M3846.4,105.6 L3865.4,137.6 L3827.4,137.6 Z"/><path d="M3847.6,105.6 L3866.6,137.6 L3828.6,137.6 Z"/><path d="M3848.8,105.6 L3867.8,137.6 L3829.8,137.6 Z"/><path d="M3849.9,105.6 L3868.9,137.6 L3830.9,137.6 Z"/><path d="M3851.1,105.6 L3870.1,137.6 L3832.1,137.6 Z"/><path d="M3852.3,105.6 L3871.3,137.6 L3833.3,137.6 Z"/><path d="M3853.5,105.6 L3872.5,137.6 L3834.5,137.6 Z"/><path d="M3854.6,105.6 L3873.6,137.6 L3835.6,137.6 Z"/><path d="M3855.8,105.6 L3874.8,137.6 L3836.8,137.6 Z"/><path d="M3857.0,105.6 L3876.0,137.6 L3838.0,137.6 Z"/><path d="M3858.1,105.6 L3877.1,137.6 L3839.1,137.6 Z"/><path d="M3859.3,105.6 L3878.3,137.6 L3840.3,137.6 Z"/><path d="M3860.4,105.6 L3879.4,137.6 L3841.4,137.6 Z"/><path d="M3861.5,105.6 L3880.5,137.6 L3842.5,137.6 Z"/><path d="M3862.7,105.6 L3881.7,137.6 L3843.7,137.6 Z"/><path d="M3863.8,105.6 L3882.8,137.6 L3844.8,137.6 Z"/><path d="M3864.9,105.6 L3883.9,137.6 L3845.9,137.6 Z"/><path d="M3866.1,105.6 L3885.1,137.6 L3847.1,137.6 Z"/><path d="M3867.2,105.6 L3886.2,137.6 L3848.2,137.6 Z"/><path d="M3868.3,105.6 L3887.3,137.6 L3849.3,137.6 Z"/><path d="M3869.4,105.6 L3888.4,137.6 L3850.4,137.6 Z"/></g>
<rect x="3562.7" y="952.6" width="27.2" height="26.2" fill="#151515"/>
<circle cx="3576.4" cy="1058" r="14.5" fill="#151515"/>
<path d="M3576.5,1132.0 L3594.0,1162.0 L3559.0,1162.0 Z" fill="#151515"/>
<text x="3634" y="990.3" font-size="52" font-family="'Liberation Serif','Noto Serif CJK SC','Noto Serif CJK JP',serif" fill="#151515">快组分</text>
<text x="3634" y="1082" font-size="52" font-family="'Liberation Serif','Noto Serif CJK SC','Noto Serif CJK JP',serif" fill="#151515">中组分</text>
<text x="3634" y="1169" font-size="52" font-family="'Liberation Serif','Noto Serif CJK SC','Noto Serif CJK JP',serif" fill="#151515">慢组分</text>
<text transform="translate(2049.0,882.3) rotate(-90)" font-size="52" text-anchor="middle" font-family="'Liberation Serif','Noto Serif CJK SC','Noto Serif CJK JP',serif" fill="#151515">各</text>
<text transform="translate(2049.0,829.6) rotate(-90)" font-size="52" text-anchor="middle" font-family="'Liberation Serif','Noto Serif CJK SC','Noto Serif CJK JP',serif" fill="#151515">个</text>
<text transform="translate(2049.0,777.0) rotate(-90)" font-size="52" text-anchor="middle" font-family="'Liberation Serif','Noto Serif CJK SC','Noto Serif CJK JP',serif" fill="#151515">组</text>
<text transform="translate(2049.0,723.9) rotate(-90)" font-size="52" text-anchor="middle" font-family="'Liberation Serif','Noto Serif CJK SC','Noto Serif CJK JP',serif" fill="#151515">分</text>
<text transform="translate(2049.0,671.6) rotate(-90)" font-size="52" text-anchor="middle" font-family="'Liberation Serif','Noto Serif CJK SC','Noto Serif CJK JP',serif" fill="#151515">信</text>
<text transform="translate(2049.0,619.0) rotate(-90)" font-size="52" text-anchor="middle" font-family="'Liberation Serif','Noto Serif CJK SC','Noto Serif CJK JP',serif" fill="#151515">号</text>
<text transform="translate(2049.0,566.5) rotate(-90)" font-size="52" text-anchor="middle" font-family="'Liberation Serif','Noto Serif CJK SC','Noto Serif CJK JP',serif" fill="#151515">比</text>
<text transform="translate(2049.0,514.3) rotate(-90)" font-size="52" text-anchor="middle" font-family="'Liberation Serif','Noto Serif CJK SC','Noto Serif CJK JP',serif" fill="#151515">例</text>
<text transform="translate(2049.0,482.0) rotate(-90)" font-size="48" text-anchor="middle" font-family="'Liberation Serif','Times New Roman',serif" fill="#151515">/</text>
<text transform="translate(2049.0,451.8) rotate(-90)" font-size="48" text-anchor="middle" font-family="'Liberation Serif','Times New Roman',serif" fill="#151515">%</text>
<text x="3069.8" y="1392.0" font-size="52" text-anchor="middle" font-family="'Liberation Serif','Noto Serif CJK SC','Noto Serif CJK JP',serif" fill="#151515">激</text>
<text x="3122.5" y="1392.0" font-size="52" text-anchor="middle" font-family="'Liberation Serif','Noto Serif CJK SC','Noto Serif CJK JP',serif" fill="#151515">发</text>
<text x="3175.2" y="1392.0" font-size="52" text-anchor="middle" font-family="'Liberation Serif','Noto Serif CJK SC','Noto Serif CJK JP',serif" fill="#151515">时</text>
<text x="3228.0" y="1392.0" font-size="52" text-anchor="middle" font-family="'Liberation Serif','Noto Serif CJK SC','Noto Serif CJK JP',serif" fill="#151515">间</text>
<text x="3259.8" y="1392.0" font-size="52" text-anchor="middle" font-family="'Liberation Serif','Noto Serif CJK SC','Noto Serif CJK JP',serif" fill="#151515">/</text>
<text x="3279.5" y="1392.0" font-size="52" text-anchor="middle" font-family="'Liberation Serif','Noto Serif CJK SC','Noto Serif CJK JP',serif" fill="#151515">s</text>
<text x="1006.6" y="1392.0" font-size="52" text-anchor="middle" font-family="'Liberation Serif','Noto Serif CJK SC','Noto Serif CJK JP',serif" fill="#151515">激</text>
<text x="1059.3" y="1392.0" font-size="52" text-anchor="middle" font-family="'Liberation Serif','Noto Serif CJK SC','Noto Serif CJK JP',serif" fill="#151515">发</text>
<text x="1112.0" y="1392.0" font-size="52" text-anchor="middle" font-family="'Liberation Serif','Noto Serif CJK SC','Noto Serif CJK JP',serif" fill="#151515">时</text>
<text x="1164.8" y="1392.0" font-size="52" text-anchor="middle" font-family="'Liberation Serif','Noto Serif CJK SC','Noto Serif CJK JP',serif" fill="#151515">间</text>
<text x="1196.6" y="1392.0" font-size="52" text-anchor="middle" font-family="'Liberation Serif','Noto Serif CJK SC','Noto Serif CJK JP',serif" fill="#151515">/</text>
<text x="1216.3" y="1392.0" font-size="52" text-anchor="middle" font-family="'Liberation Serif','Noto Serif CJK SC','Noto Serif CJK JP',serif" fill="#151515">s</text>
<text transform="translate(46.0,880.5) rotate(-90)" font-size="50" text-anchor="middle" font-family="'Liberation Serif','Noto Serif CJK SC','Noto Serif CJK JP',serif" fill="#151515">释</text>
<text transform="translate(46.0,829.5) rotate(-90)" font-size="50" text-anchor="middle" font-family="'Liberation Serif','Noto Serif CJK SC','Noto Serif CJK JP',serif" fill="#151515">光</text>
<text transform="translate(46.0,776.5) rotate(-90)" font-size="50" text-anchor="middle" font-family="'Liberation Serif','Noto Serif CJK SC','Noto Serif CJK JP',serif" fill="#151515">信</text>
<text transform="translate(46.0,722.0) rotate(-90)" font-size="50" text-anchor="middle" font-family="'Liberation Serif','Noto Serif CJK SC','Noto Serif CJK JP',serif" fill="#151515">号</text>
<text transform="translate(46.0,671.0) rotate(-90)" font-size="50" text-anchor="middle" font-family="'Liberation Serif','Noto Serif CJK SC','Noto Serif CJK JP',serif" fill="#151515">强</text>
<text transform="translate(46.0,620.2) rotate(-90)" font-size="50" text-anchor="middle" font-family="'Liberation Serif','Noto Serif CJK SC','Noto Serif CJK JP',serif" fill="#151515">度</text>
<text transform="translate(42.0,361.1) rotate(-90)" font-size="48" text-anchor="middle" font-family="'Liberation Serif','Times New Roman',serif" fill="#151515">)</text>
<text transform="translate(42.0,383.5) rotate(-90)" font-size="48" text-anchor="middle" font-family="'Liberation Serif','Times New Roman',serif" fill="#151515">1</text>
<text transform="translate(42.0,406.4) rotate(-90)" font-size="48" text-anchor="middle" font-family="'Liberation Serif','Times New Roman',serif" fill="#151515">-</text>
<text transform="translate(42.0,427.4) rotate(-90)" font-size="48" text-anchor="middle" font-family="'Liberation Serif','Times New Roman',serif" fill="#151515">s</text>
<text transform="translate(42.0,451.9) rotate(-90)" font-size="48" text-anchor="middle" font-family="'Liberation Serif','Times New Roman',serif" fill="#151515">6</text>
<text transform="translate(42.0,479.2) rotate(-90)" font-size="48" text-anchor="middle" font-family="'Liberation Serif','Times New Roman',serif" fill="#151515">1</text>
<text transform="translate(42.0,500.9) rotate(-90)" font-size="48" text-anchor="middle" font-family="'Liberation Serif','Times New Roman',serif" fill="#151515">.</text>
<text transform="translate(42.0,522.2) rotate(-90)" font-size="48" text-anchor="middle" font-family="'Liberation Serif','Times New Roman',serif" fill="#151515">0</text>
<text transform="translate(42.0,544.1) rotate(-90)" font-size="48" text-anchor="middle" font-family="'Liberation Serif','Times New Roman',serif" fill="#151515">.</text>
<text transform="translate(42.0,562.2) rotate(-90)" font-size="48" text-anchor="middle" font-family="'Liberation Serif','Times New Roman',serif" fill="#151515">c</text>
<text transform="translate(42.0,584.0) rotate(-90)" font-size="48" text-anchor="middle" font-family="'Liberation Serif','Times New Roman',serif" fill="#151515">(</text></svg>
</body></html>
